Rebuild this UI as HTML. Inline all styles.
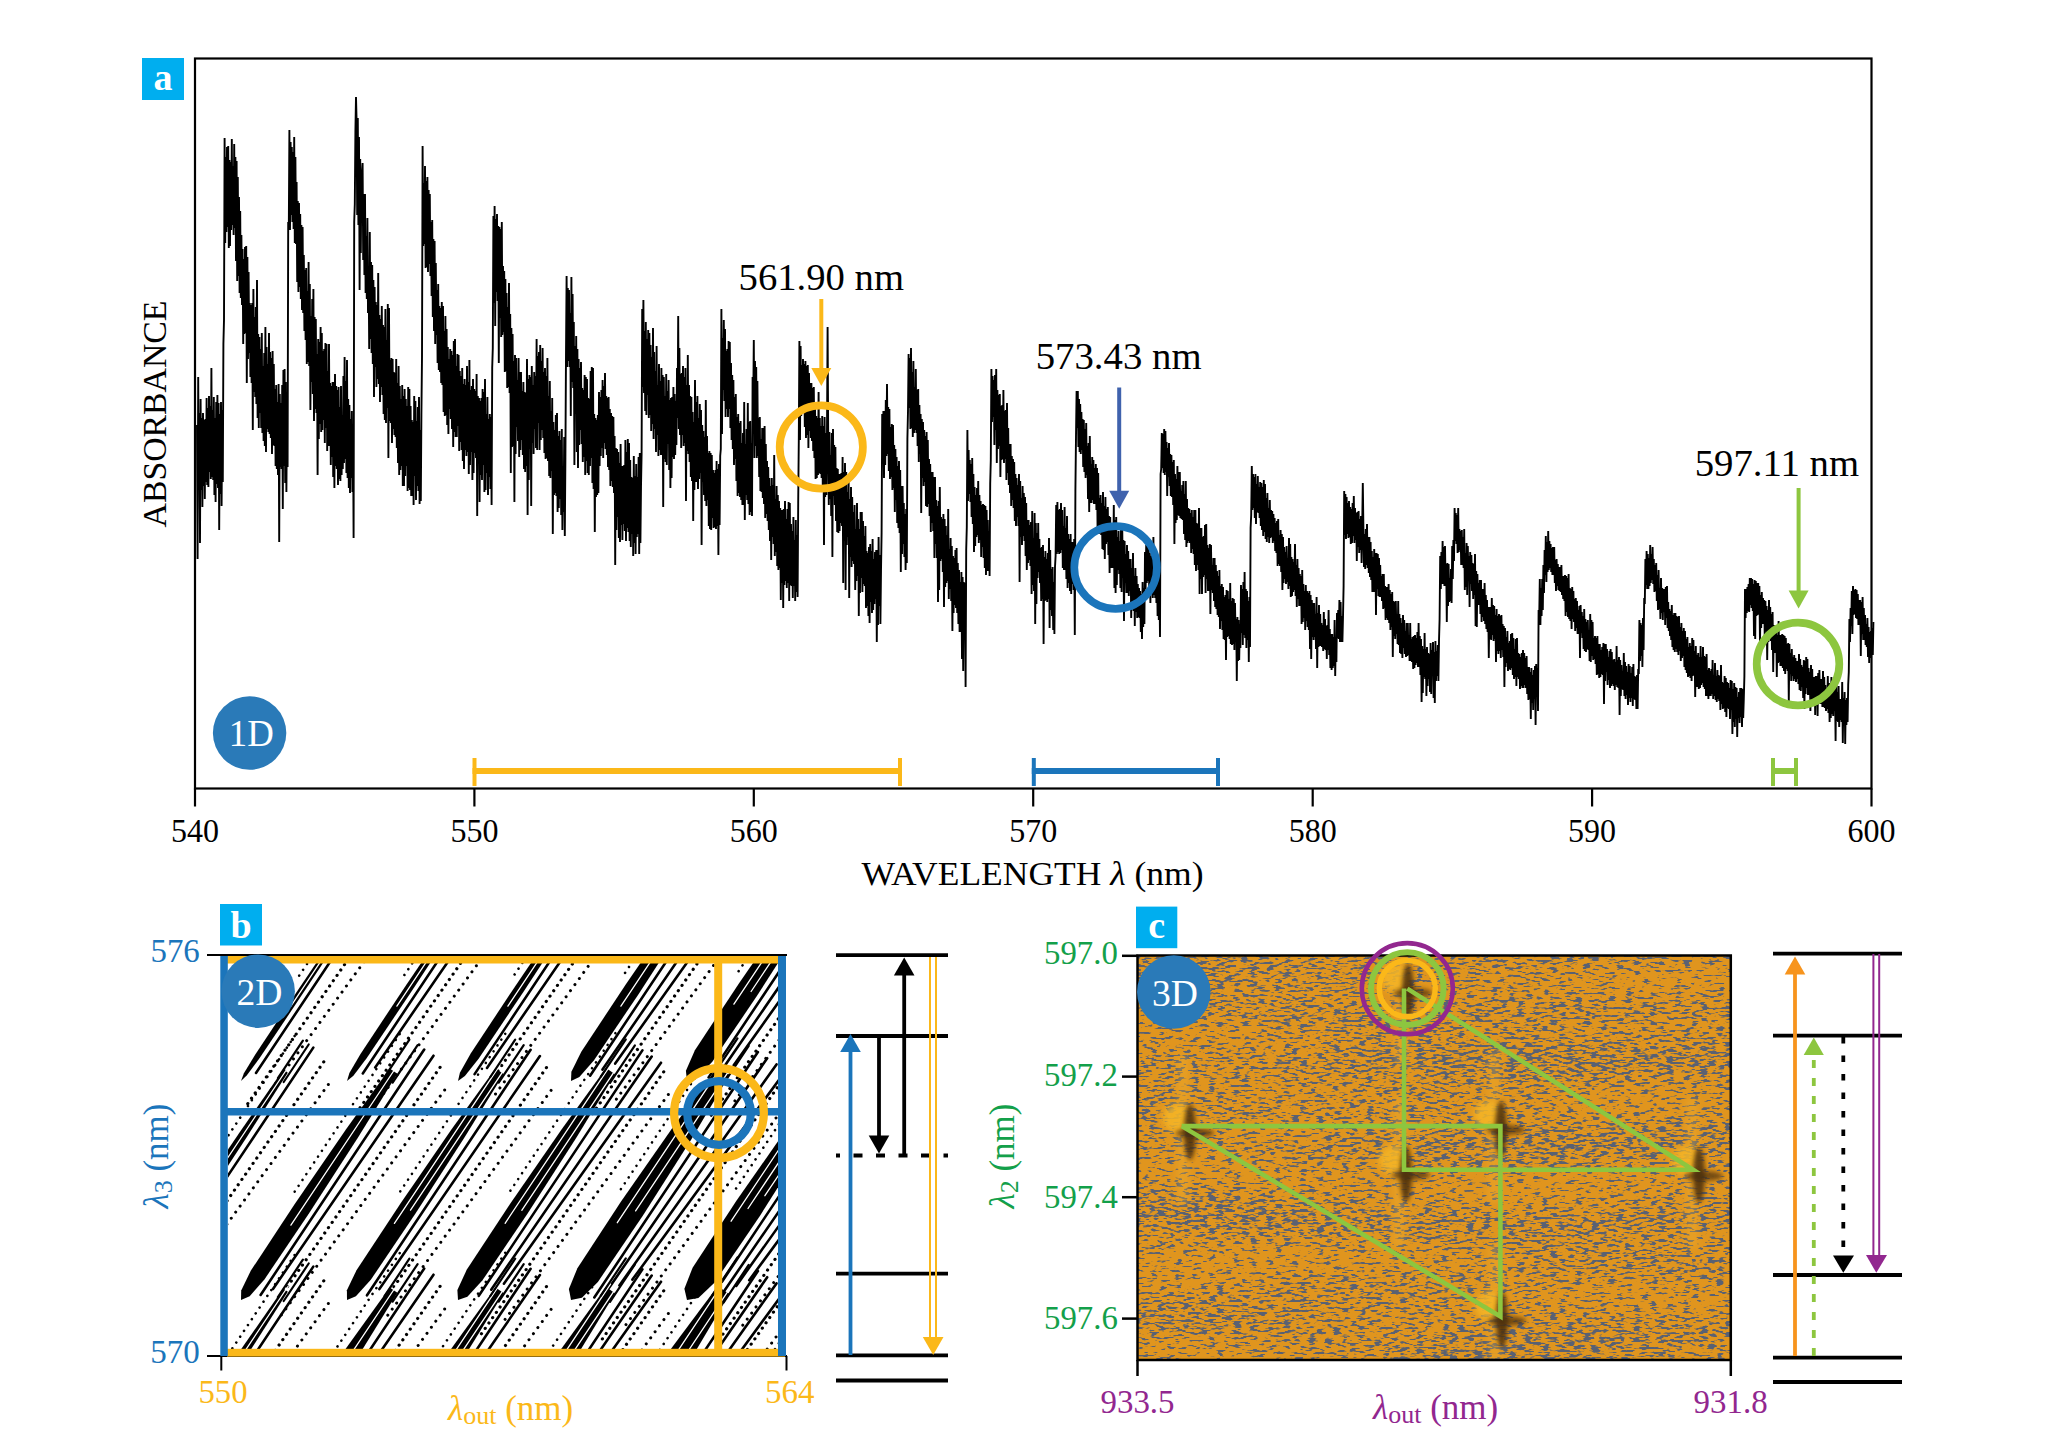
<!DOCTYPE html>
<html><head><meta charset="utf-8"><style>
html,body{margin:0;padding:0;background:#fff;}
svg{display:block;font-family:'Liberation Serif',serif;}
</style></head><body>
<svg width="2050" height="1452" viewBox="0 0 2050 1452" style="font-family:'Liberation Serif',serif">
<rect x="195.0" y="58.5" width="1676.5" height="730.0" fill="none" stroke="#000" stroke-width="2.2"/><path d="M197.00,425 L197.60,559 L198.20,377 L198.80,482 L199.40,413 L200.00,543 L200.60,399 L201.20,490 L201.80,418 L202.40,507 L203.00,413 L203.60,486 L204.20,420 L204.80,499 L205.40,419 L206.00,482 L206.60,398 L207.20,485 L207.80,408 L208.40,487 L209.00,396 L209.60,472 L210.20,406 L210.80,479 L211.40,368 L212.00,477 L212.60,410 L213.20,480 L213.80,397 L214.40,495 L215.00,418 L215.60,502 L216.20,402 L216.80,484 L217.40,395 L218.00,488 L218.60,403 L219.20,530 L219.80,414 L220.40,494 L221.00,402 L221.60,506 L222.20,410 L222.80,482 L223.40,344 L224.00,320 L224.60,138 L225.20,243 L225.80,157 L226.40,232 L227.00,147 L227.60,227 L228.20,146 L228.80,248 L229.40,160 L230.00,246 L230.60,162 L231.20,230 L231.80,139 L232.40,225 L233.00,166 L233.60,235 L234.20,144 L234.80,228 L235.40,157 L236.00,261 L236.60,161 L237.20,281 L237.80,177 L238.40,276 L239.00,197 L239.60,293 L240.20,211 L240.80,298 L241.40,235 L242.00,305 L242.60,249 L243.20,344 L243.80,259 L244.40,334 L245.00,247 L245.60,333 L246.20,246 L246.80,383 L247.40,257 L248.00,359 L248.60,272 L249.20,353 L249.80,303 L250.40,377 L251.00,305 L251.60,383 L252.20,303 L252.80,430 L253.40,289 L254.00,392 L254.60,317 L255.20,397 L255.80,307 L256.40,404 L257.00,280 L257.60,418 L258.20,334 L258.80,428 L259.40,337 L260.00,413 L260.60,349 L261.20,428 L261.80,333 L262.40,433 L263.00,366 L263.60,441 L264.20,353 L264.80,446 L265.40,327 L266.00,452 L266.60,347 L267.20,429 L267.80,364 L268.40,432 L269.00,333 L269.60,434 L270.20,352 L270.80,438 L271.40,358 L272.00,454 L272.60,351 L273.20,445 L273.80,364 L274.40,446 L275.00,389 L275.60,466 L276.20,385 L276.80,469 L277.40,402 L278.00,475 L278.60,384 L279.20,542 L279.80,394 L280.40,467 L281.00,403 L281.60,469 L282.20,385 L282.80,509 L283.40,370 L284.00,466 L284.60,369 L285.20,483 L285.80,382 L286.40,492 L287.00,407 L287.60,467 L288.20,222 L288.80,229 L289.40,130 L290.00,230 L290.60,142 L291.20,215 L291.80,147 L292.40,222 L293.00,152 L293.60,229 L294.20,137 L294.80,243 L295.40,157 L296.00,244 L296.60,182 L297.20,282 L297.80,201 L298.40,292 L299.00,203 L299.60,287 L300.20,214 L300.80,299 L301.40,225 L302.00,310 L302.60,227 L303.20,313 L303.80,255 L304.40,331 L305.00,270 L305.60,340 L306.20,268 L306.80,364 L307.40,291 L308.00,362 L308.60,262 L309.20,366 L309.80,284 L310.40,410 L311.00,316 L311.60,382 L312.20,299 L312.80,394 L313.40,289 L314.00,421 L314.60,317 L315.20,409 L315.80,319 L316.40,413 L317.00,354 L317.60,475 L318.20,339 L318.80,439 L319.40,342 L320.00,424 L320.60,327 L321.20,432 L321.80,333 L322.40,430 L323.00,351 L323.60,420 L324.20,349 L324.80,443 L325.40,343 L326.00,428 L326.60,344 L327.20,451 L327.80,371 L328.40,446 L329.00,344 L329.60,446 L330.20,383 L330.80,465 L331.40,386 L332.00,457 L332.60,382 L333.20,477 L333.80,382 L334.40,488 L335.00,374 L335.60,466 L336.20,386 L336.80,469 L337.40,390 L338.00,485 L338.60,387 L339.20,479 L339.80,407 L340.40,481 L341.00,386 L341.60,475 L342.20,415 L342.80,469 L343.40,376 L344.00,463 L344.60,357 L345.20,459 L345.80,381 L346.40,473 L347.00,360 L347.60,478 L348.20,399 L348.80,488 L349.40,405 L350.00,493 L350.60,419 L351.20,478 L351.80,411 L352.40,492 L353.00,425 L353.60,538 L354.20,222 L354.80,204 L355.40,132 L356.00,97 L356.60,121 L357.20,215 L357.80,118 L358.40,225 L359.00,137 L359.60,290 L360.20,159 L360.80,253 L361.40,176 L362.00,173 L362.60,163 L363.20,260 L363.80,194 L364.40,275 L365.00,194 L365.60,293 L366.20,236 L366.80,299 L367.40,218 L368.00,313 L368.60,267 L369.20,349 L369.80,232 L370.40,339 L371.00,262 L371.60,353 L372.20,265 L372.80,364 L373.40,280 L374.00,397 L374.60,287 L375.20,367 L375.80,302 L376.40,387 L377.00,305 L377.60,379 L378.20,273 L378.80,384 L379.40,315 L380.00,402 L380.60,319 L381.20,387 L381.80,306 L382.40,395 L383.00,325 L383.60,414 L384.20,327 L384.80,420 L385.40,309 L386.00,423 L386.60,340 L387.20,408 L387.80,304 L388.40,458 L389.00,308 L389.60,421 L390.20,360 L390.80,423 L391.40,358 L392.00,443 L392.60,359 L393.20,429 L393.80,372 L394.40,435 L395.00,373 L395.60,437 L396.20,359 L396.80,448 L397.40,383 L398.00,463 L398.60,366 L399.20,475 L399.80,386 L400.40,470 L401.00,399 L401.60,466 L402.20,385 L402.80,486 L403.40,396 L404.00,486 L404.60,389 L405.20,476 L405.80,399 L406.40,466 L407.00,406 L407.60,491 L408.20,387 L408.80,488 L409.40,389 L410.00,490 L410.60,406 L411.20,496 L411.80,420 L412.40,496 L413.00,422 L413.60,505 L414.20,396 L414.80,476 L415.40,401 L416.00,500 L416.60,421 L417.20,486 L417.80,407 L418.40,491 L419.00,397 L419.60,504 L420.20,430 L420.80,501 L421.40,415 L422.00,357 L422.60,146 L423.20,246 L423.80,183 L424.40,244 L425.00,166 L425.60,268 L426.20,181 L426.80,267 L427.40,177 L428.00,272 L428.60,190 L429.20,264 L429.80,194 L430.40,276 L431.00,222 L431.60,296 L432.20,220 L432.80,317 L433.40,239 L434.00,331 L434.60,241 L435.20,344 L435.80,263 L436.40,335 L437.00,290 L437.60,363 L438.20,284 L438.80,370 L439.40,306 L440.00,372 L440.60,308 L441.20,383 L441.80,302 L442.40,385 L443.00,306 L443.60,412 L444.20,331 L444.80,416 L445.40,316 L446.00,415 L446.60,329 L447.20,425 L447.80,347 L448.40,434 L449.00,359 L449.60,409 L450.20,349 L450.80,419 L451.40,351 L452.00,429 L452.60,355 L453.20,447 L453.80,341 L454.40,432 L455.00,339 L455.60,437 L456.20,366 L456.80,437 L457.40,354 L458.00,426 L458.60,355 L459.20,451 L459.80,371 L460.40,442 L461.00,376 L461.60,450 L462.20,368 L462.80,461 L463.40,384 L464.00,469 L464.60,379 L465.20,450 L465.80,385 L466.40,456 L467.00,366 L467.60,452 L468.20,382 L468.80,474 L469.40,360 L470.00,465 L470.60,390 L471.20,452 L471.80,386 L472.40,480 L473.00,379 L473.60,473 L474.20,389 L474.80,453 L475.40,391 L476.00,458 L476.60,374 L477.20,516 L477.80,396 L478.40,458 L479.00,398 L479.60,502 L480.20,401 L480.80,475 L481.40,398 L482.00,480 L482.60,389 L483.20,465 L483.80,392 L484.40,492 L485.00,379 L485.60,490 L486.20,414 L486.80,473 L487.40,397 L488.00,495 L488.60,419 L489.20,477 L489.80,414 L490.40,489 L491.00,417 L491.60,505 L492.20,368 L492.80,348 L493.40,216 L494.00,303 L494.60,206 L495.20,326 L495.80,219 L496.40,292 L497.00,214 L497.60,301 L498.20,226 L498.80,363 L499.40,227 L500.00,318 L500.60,229 L501.20,337 L501.80,222 L502.40,335 L503.00,266 L503.60,332 L504.20,271 L504.80,372 L505.40,279 L506.00,371 L506.60,293 L507.20,388 L507.80,307 L508.40,387 L509.00,283 L509.60,393 L510.20,314 L510.80,473 L511.40,328 L512.00,447 L512.60,334 L513.20,446 L513.80,361 L514.40,502 L515.00,355 L515.60,454 L516.20,358 L516.80,427 L517.40,380 L518.00,441 L518.60,358 L519.20,457 L519.80,372 L520.40,450 L521.00,372 L521.60,440 L522.20,391 L522.80,455 L523.40,382 L524.00,469 L524.60,392 L525.20,472 L525.80,393 L526.40,466 L527.00,359 L527.60,515 L528.20,379 L528.80,480 L529.40,375 L530.00,449 L530.60,377 L531.20,506 L531.80,366 L532.40,443 L533.00,385 L533.60,454 L534.20,372 L534.80,429 L535.40,376 L536.00,448 L536.60,339 L537.20,450 L537.80,356 L538.40,423 L539.00,352 L539.60,450 L540.20,345 L540.80,440 L541.40,361 L542.00,430 L542.60,348 L543.20,438 L543.80,372 L544.40,453 L545.00,368 L545.60,459 L546.20,376 L546.80,458 L547.40,358 L548.00,461 L548.60,396 L549.20,476 L549.80,381 L550.40,478 L551.00,411 L551.60,471 L552.20,398 L552.80,534 L553.40,422 L554.00,495 L554.60,430 L555.20,493 L555.80,415 L556.40,496 L557.00,413 L557.60,512 L558.20,436 L558.80,508 L559.40,431 L560.00,499 L560.60,440 L561.20,515 L561.80,429 L562.40,530 L563.00,466 L563.60,512 L564.20,437 L564.80,536 L565.40,458 L566.00,355 L566.60,276 L567.20,367 L567.80,288 L568.40,361 L569.00,290 L569.60,367 L570.20,313 L570.80,416 L571.40,277 L572.00,382 L572.60,294 L573.20,388 L573.80,322 L574.40,465 L575.00,346 L575.60,414 L576.20,336 L576.80,452 L577.40,349 L578.00,468 L578.60,359 L579.20,445 L579.80,368 L580.40,430 L581.00,362 L581.60,444 L582.20,388 L582.80,462 L583.40,390 L584.00,457 L584.60,375 L585.20,475 L585.80,377 L586.40,461 L587.00,379 L587.60,473 L588.20,398 L588.80,475 L589.40,399 L590.00,466 L590.60,371 L591.20,458 L591.80,367 L592.40,483 L593.00,368 L593.60,489 L594.20,414 L594.80,532 L595.40,418 L596.00,497 L596.60,420 L597.20,495 L597.80,415 L598.40,493 L599.00,392 L599.60,466 L600.20,397 L600.80,456 L601.40,390 L602.00,448 L602.60,380 L603.20,458 L603.80,386 L604.40,443 L605.00,373 L605.60,449 L606.20,396 L606.80,455 L607.40,398 L608.00,467 L608.60,397 L609.20,470 L609.80,409 L610.40,486 L611.00,413 L611.60,481 L612.20,416 L612.80,487 L613.40,417 L614.00,493 L614.60,436 L615.20,565 L615.80,448 L616.40,530 L617.00,449 L617.60,517 L618.20,452 L618.80,538 L619.40,463 L620.00,542 L620.60,444 L621.20,525 L621.80,466 L622.40,540 L623.00,466 L623.60,524 L624.20,465 L624.80,531 L625.40,440 L626.00,541 L626.60,452 L627.20,528 L627.80,439 L628.40,532 L629.00,443 L629.60,541 L630.20,460 L630.80,547 L631.40,477 L632.00,534 L632.60,478 L633.20,556 L633.80,456 L634.40,543 L635.00,476 L635.60,554 L636.20,464 L636.80,537 L637.40,477 L638.00,534 L638.60,457 L639.20,554 L639.80,453 L640.40,543 L641.00,487 L641.60,454 L642.20,309 L642.80,387 L643.40,300 L644.00,393 L644.60,331 L645.20,411 L645.80,322 L646.40,415 L647.00,339 L647.60,395 L648.20,330 L648.80,418 L649.40,333 L650.00,415 L650.60,345 L651.20,431 L651.80,357 L652.40,424 L653.00,328 L653.60,439 L654.20,352 L654.80,429 L655.40,371 L656.00,452 L656.60,346 L657.20,435 L657.80,385 L658.40,456 L659.00,364 L659.60,450 L660.20,381 L660.80,455 L661.40,368 L662.00,455 L662.60,375 L663.20,507 L663.80,377 L664.40,459 L665.00,396 L665.60,462 L666.20,374 L666.80,465 L667.40,391 L668.00,444 L668.60,380 L669.20,470 L669.80,400 L670.40,488 L671.00,398 L671.60,478 L672.20,397 L672.80,457 L673.40,387 L674.00,459 L674.60,394 L675.20,455 L675.80,401 L676.40,445 L677.00,368 L677.60,418 L678.20,316 L678.80,429 L679.40,348 L680.00,435 L680.60,374 L681.20,448 L681.80,373 L682.40,435 L683.00,366 L683.60,446 L684.20,377 L684.80,443 L685.40,368 L686.00,501 L686.60,385 L687.20,451 L687.80,355 L688.40,454 L689.00,385 L689.60,462 L690.20,396 L690.80,477 L691.40,397 L692.00,481 L692.60,412 L693.20,521 L693.80,422 L694.40,490 L695.00,380 L695.60,482 L696.20,402 L696.80,482 L697.40,396 L698.00,489 L698.60,418 L699.20,479 L699.80,404 L700.40,473 L701.00,410 L701.60,545 L702.20,425 L702.80,482 L703.40,431 L704.00,495 L704.60,437 L705.20,501 L705.80,400 L706.40,506 L707.00,436 L707.60,500 L708.20,453 L708.80,526 L709.40,451 L710.00,529 L710.60,453 L711.20,530 L711.80,455 L712.40,518 L713.00,470 L713.60,528 L714.20,473 L714.80,527 L715.40,470 L716.00,529 L716.60,461 L717.20,526 L717.80,469 L718.40,555 L719.00,464 L719.60,525 L720.20,456 L720.80,449 L721.40,309 L722.00,434 L722.60,338 L723.20,390 L723.80,320 L724.40,401 L725.00,329 L725.60,417 L726.20,351 L726.80,409 L727.40,349 L728.00,417 L728.60,341 L729.20,409 L729.80,342 L730.40,428 L731.00,363 L731.60,440 L732.20,375 L732.80,449 L733.40,380 L734.00,465 L734.60,397 L735.20,459 L735.80,394 L736.40,481 L737.00,417 L737.60,496 L738.20,414 L738.80,493 L739.40,423 L740.00,497 L740.60,421 L741.20,500 L741.80,443 L742.40,505 L743.00,433 L743.60,505 L744.20,402 L744.80,520 L745.40,444 L746.00,495 L746.60,429 L747.20,500 L747.80,403 L748.40,504 L749.00,422 L749.60,515 L750.20,421 L750.80,512 L751.40,443 L752.00,516 L752.60,377 L753.20,409 L753.80,340 L754.40,458 L755.00,361 L755.60,446 L756.20,367 L756.80,458 L757.40,381 L758.00,456 L758.60,418 L759.20,477 L759.80,417 L760.40,491 L761.00,439 L761.60,492 L762.20,428 L762.80,498 L763.40,428 L764.00,504 L764.60,426 L765.20,518 L765.80,444 L766.40,514 L767.00,461 L767.60,521 L768.20,467 L768.80,530 L769.40,478 L770.00,541 L770.60,486 L771.20,560 L771.80,478 L772.40,537 L773.00,485 L773.60,544 L774.20,455 L774.80,556 L775.40,499 L776.00,552 L776.60,486 L777.20,566 L777.80,495 L778.40,570 L779.00,501 L779.60,568 L780.20,508 L780.80,600 L781.40,510 L782.00,583 L782.60,510 L783.20,608 L783.80,509 L784.40,585 L785.00,501 L785.60,581 L786.20,519 L786.80,588 L787.40,509 L788.00,583 L788.60,502 L789.20,601 L789.80,503 L790.40,585 L791.00,524 L791.60,586 L792.20,531 L792.80,598 L793.40,517 L794.00,586 L794.60,540 L795.20,601 L795.80,520 L796.40,592 L797.00,535 L797.60,597 L798.20,503 L798.80,440 L799.40,341 L800.00,440 L800.60,346 L801.20,416 L801.80,365 L802.40,413 L803.00,359 L803.60,410 L804.20,364 L804.80,427 L805.40,361 L806.00,438 L806.60,366 L807.20,435 L807.80,365 L808.40,448 L809.00,373 L809.60,431 L810.20,383 L810.80,438 L811.40,383 L812.00,441 L812.60,388 L813.20,451 L813.80,387 L814.40,458 L815.00,403 L815.60,479 L816.20,416 L816.80,478 L817.40,418 L818.00,475 L818.60,392 L819.20,473 L819.80,418 L820.40,474 L821.00,426 L821.60,478 L822.20,416 L822.80,491 L823.40,426 L824.00,545 L824.60,417 L825.20,497 L825.80,433 L826.40,495 L827.00,432 L827.60,327 L828.20,437 L828.80,505 L829.40,432 L830.00,499 L830.60,455 L831.20,516 L831.80,433 L832.40,557 L833.00,429 L833.60,496 L834.20,445 L834.80,505 L835.40,447 L836.00,521 L836.60,468 L837.20,532 L837.80,469 L838.40,533 L839.00,474 L839.60,531 L840.20,474 L840.80,523 L841.40,473 L842.00,526 L842.60,457 L843.20,583 L843.80,472 L844.40,541 L845.00,463 L845.60,590 L846.20,472 L846.80,545 L847.40,492 L848.00,537 L848.60,478 L849.20,598 L849.80,499 L850.40,557 L851.00,487 L851.60,567 L852.20,497 L852.80,561 L853.40,512 L854.00,564 L854.60,505 L855.20,590 L855.80,529 L856.40,581 L857.00,503 L857.60,576 L858.20,519 L858.80,616 L859.40,529 L860.00,593 L860.60,512 L861.20,578 L861.80,512 L862.40,592 L863.00,521 L863.60,584 L864.20,536 L864.80,586 L865.40,526 L866.00,608 L866.60,551 L867.20,606 L867.80,553 L868.40,616 L869.00,547 L869.60,623 L870.20,544 L870.80,602 L871.40,551 L872.00,613 L872.60,539 L873.20,610 L873.80,559 L874.40,604 L875.00,552 L875.60,599 L876.20,550 L876.80,642 L877.40,550 L878.00,625 L878.60,537 L879.20,606 L879.80,555 L880.40,624 L881.00,571 L881.60,533 L882.20,414 L882.80,464 L883.40,411 L884.00,478 L884.60,411 L885.20,465 L885.80,400 L886.40,456 L887.00,384 L887.60,454 L888.20,407 L888.80,471 L889.40,409 L890.00,479 L890.60,427 L891.20,477 L891.80,424 L892.40,490 L893.00,425 L893.60,488 L894.20,445 L894.80,512 L895.40,449 L896.00,500 L896.60,457 L897.20,523 L897.80,466 L898.40,528 L899.00,461 L899.60,533 L900.20,470 L900.80,572 L901.40,486 L902.00,554 L902.60,486 L903.20,544 L903.80,503 L904.40,557 L905.00,514 L905.60,570 L906.20,509 L906.80,563 L907.40,439 L908.00,411 L908.60,354 L909.20,408 L909.80,358 L910.40,429 L911.00,348 L911.60,428 L912.20,372 L912.80,437 L913.40,361 L914.00,433 L914.60,387 L915.20,430 L915.80,369 L916.40,433 L917.00,390 L917.60,446 L918.20,389 L918.80,462 L919.40,405 L920.00,454 L920.60,414 L921.20,513 L921.80,419 L922.40,478 L923.00,422 L923.60,486 L924.20,430 L924.80,482 L925.40,436 L926.00,506 L926.60,432 L927.20,507 L927.80,440 L928.40,504 L929.00,459 L929.60,516 L930.20,464 L930.80,532 L931.40,472 L932.00,523 L932.60,472 L933.20,531 L933.80,477 L934.40,558 L935.00,477 L935.60,544 L936.20,500 L936.80,558 L937.40,506 L938.00,602 L938.60,501 L939.20,590 L939.80,487 L940.40,561 L941.00,517 L941.60,559 L942.20,519 L942.80,572 L943.40,514 L944.00,607 L944.60,519 L945.20,587 L945.80,526 L946.40,583 L947.00,535 L947.60,581 L948.20,509 L948.80,599 L949.40,549 L950.00,589 L950.60,538 L951.20,601 L951.80,546 L952.40,631 L953.00,556 L953.60,613 L954.20,558 L954.80,605 L955.40,550 L956.00,608 L956.60,548 L957.20,613 L957.80,563 L958.40,624 L959.00,570 L959.60,632 L960.20,582 L960.80,632 L961.40,572 L962.00,659 L962.60,577 L963.20,671 L963.80,582 L964.40,638 L965.00,583 L965.60,687 L966.20,550 L966.80,527 L967.40,430 L968.00,501 L968.60,450 L969.20,494 L969.80,460 L970.40,502 L971.00,464 L971.60,517 L972.20,458 L972.80,524 L973.40,474 L974.00,552 L974.60,487 L975.20,546 L975.80,495 L976.40,537 L977.00,488 L977.60,535 L978.20,481 L978.80,543 L979.40,495 L980.00,540 L980.60,501 L981.20,557 L981.80,505 L982.40,547 L983.00,504 L983.60,558 L984.20,505 L984.80,568 L985.40,506 L986.00,575 L986.60,510 L987.20,571 L987.80,520 L988.40,571 L989.00,531 L989.60,576 L990.20,484 L990.80,460 L991.40,369 L992.00,422 L992.60,376 L993.20,417 L993.80,380 L994.40,445 L995.00,375 L995.60,430 L996.20,369 L996.80,463 L997.40,390 L998.00,449 L998.60,395 L999.20,446 L999.80,394 L1000.40,477 L1001.00,406 L1001.60,460 L1002.20,405 L1002.80,459 L1003.40,390 L1004.00,463 L1004.60,411 L1005.20,459 L1005.80,410 L1006.40,480 L1007.00,403 L1007.60,473 L1008.20,428 L1008.80,485 L1009.40,444 L1010.00,493 L1010.60,444 L1011.20,506 L1011.80,456 L1012.40,500 L1013.00,459 L1013.60,508 L1014.20,462 L1014.80,521 L1015.40,474 L1016.00,526 L1016.60,478 L1017.20,517 L1017.80,485 L1018.40,526 L1019.00,474 L1019.60,582 L1020.20,481 L1020.80,537 L1021.40,498 L1022.00,545 L1022.60,486 L1023.20,536 L1023.80,493 L1024.40,541 L1025.00,497 L1025.60,556 L1026.20,503 L1026.80,570 L1027.40,520 L1028.00,563 L1028.60,520 L1029.20,560 L1029.80,525 L1030.40,566 L1031.00,522 L1031.60,594 L1032.20,511 L1032.80,585 L1033.40,538 L1034.00,591 L1034.60,513 L1035.20,624 L1035.80,523 L1036.40,604 L1037.00,533 L1037.60,578 L1038.20,523 L1038.80,572 L1039.40,539 L1040.00,583 L1040.60,548 L1041.20,601 L1041.80,547 L1042.40,599 L1043.00,545 L1043.60,644 L1044.20,557 L1044.80,601 L1045.40,551 L1046.00,600 L1046.60,559 L1047.20,602 L1047.80,553 L1048.40,599 L1049.00,538 L1049.60,628 L1050.20,550 L1050.80,610 L1051.40,569 L1052.00,616 L1052.60,567 L1053.20,630 L1053.80,582 L1054.40,634 L1055.00,567 L1055.60,556 L1056.20,505 L1056.80,554 L1057.40,502 L1058.00,552 L1058.60,510 L1059.20,554 L1059.80,509 L1060.40,553 L1061.00,503 L1061.60,550 L1062.20,510 L1062.80,568 L1063.40,526 L1064.00,570 L1064.60,507 L1065.20,570 L1065.80,528 L1066.40,579 L1067.00,516 L1067.60,588 L1068.20,534 L1068.80,583 L1069.40,539 L1070.00,591 L1070.60,534 L1071.20,594 L1071.80,542 L1072.40,584 L1073.00,542 L1073.60,590 L1074.20,539 L1074.80,635 L1075.40,491 L1076.00,437 L1076.60,391 L1077.20,428 L1077.80,391 L1078.40,447 L1079.00,399 L1079.60,452 L1080.20,404 L1080.80,454 L1081.40,412 L1082.00,450 L1082.60,419 L1083.20,467 L1083.80,420 L1084.40,472 L1085.00,429 L1085.60,478 L1086.20,423 L1086.80,475 L1087.40,446 L1088.00,499 L1088.60,443 L1089.20,512 L1089.80,436 L1090.40,503 L1091.00,464 L1091.60,503 L1092.20,457 L1092.80,500 L1093.40,460 L1094.00,504 L1094.60,468 L1095.20,504 L1095.80,464 L1096.40,510 L1097.00,468 L1097.60,533 L1098.20,473 L1098.80,534 L1099.40,498 L1100.00,529 L1100.60,495 L1101.20,535 L1101.80,503 L1102.40,549 L1103.00,492 L1103.60,550 L1104.20,506 L1104.80,559 L1105.40,497 L1106.00,544 L1106.60,509 L1107.20,542 L1107.80,507 L1108.40,555 L1109.00,516 L1109.60,573 L1110.20,517 L1110.80,568 L1111.40,524 L1112.00,568 L1112.60,525 L1113.20,568 L1113.80,505 L1114.40,588 L1115.00,520 L1115.60,593 L1116.20,517 L1116.80,585 L1117.40,537 L1118.00,570 L1118.60,531 L1119.20,574 L1119.80,541 L1120.40,588 L1121.00,530 L1121.60,592 L1122.20,524 L1122.80,578 L1123.40,540 L1124.00,621 L1124.60,541 L1125.20,583 L1125.80,554 L1126.40,593 L1127.00,545 L1127.60,593 L1128.20,551 L1128.80,596 L1129.40,559 L1130.00,591 L1130.60,559 L1131.20,618 L1131.80,568 L1132.40,604 L1133.00,553 L1133.60,611 L1134.20,576 L1134.80,626 L1135.40,568 L1136.00,612 L1136.60,576 L1137.20,618 L1137.80,584 L1138.40,617 L1139.00,588 L1139.60,618 L1140.20,591 L1140.80,632 L1141.40,594 L1142.00,639 L1142.60,582 L1143.20,627 L1143.80,588 L1144.40,624 L1145.00,552 L1145.60,589 L1146.20,545 L1146.80,583 L1147.40,547 L1148.00,581 L1148.60,545 L1149.20,587 L1149.80,553 L1150.40,603 L1151.00,556 L1151.60,594 L1152.20,548 L1152.80,598 L1153.40,537 L1154.00,595 L1154.60,554 L1155.20,598 L1155.80,560 L1156.40,603 L1157.00,570 L1157.60,616 L1158.20,566 L1158.80,620 L1159.40,577 L1160.00,637 L1160.60,474 L1161.20,469 L1161.80,433 L1162.40,468 L1163.00,434 L1163.60,473 L1164.20,429 L1164.80,475 L1165.40,431 L1166.00,472 L1166.60,442 L1167.20,496 L1167.80,448 L1168.40,477 L1169.00,443 L1169.60,486 L1170.20,454 L1170.80,496 L1171.40,455 L1172.00,497 L1172.60,462 L1173.20,505 L1173.80,460 L1174.40,544 L1175.00,474 L1175.60,523 L1176.20,479 L1176.80,520 L1177.40,466 L1178.00,515 L1178.60,472 L1179.20,516 L1179.80,472 L1180.40,518 L1181.00,491 L1181.60,519 L1182.20,485 L1182.80,520 L1183.40,481 L1184.00,534 L1184.60,494 L1185.20,540 L1185.80,481 L1186.40,547 L1187.00,499 L1187.60,543 L1188.20,508 L1188.80,541 L1189.40,509 L1190.00,543 L1190.60,513 L1191.20,553 L1191.80,510 L1192.40,549 L1193.00,517 L1193.60,554 L1194.20,510 L1194.80,565 L1195.40,510 L1196.00,571 L1196.60,523 L1197.20,565 L1197.80,524 L1198.40,570 L1199.00,508 L1199.60,594 L1200.20,528 L1200.80,579 L1201.40,528 L1202.00,594 L1202.60,537 L1203.20,577 L1203.80,536 L1204.40,575 L1205.00,525 L1205.60,593 L1206.20,524 L1206.80,579 L1207.40,545 L1208.00,591 L1208.60,548 L1209.20,591 L1209.80,544 L1210.40,614 L1211.00,545 L1211.60,590 L1212.20,565 L1212.80,593 L1213.40,558 L1214.00,601 L1214.60,558 L1215.20,607 L1215.80,565 L1216.40,609 L1217.00,571 L1217.60,615 L1218.20,576 L1218.80,617 L1219.40,570 L1220.00,629 L1220.60,586 L1221.20,621 L1221.80,584 L1222.40,630 L1223.00,587 L1223.60,639 L1224.20,597 L1224.80,640 L1225.40,595 L1226.00,660 L1226.60,590 L1227.20,637 L1227.80,591 L1228.40,636 L1229.00,599 L1229.60,639 L1230.20,583 L1230.80,644 L1231.40,601 L1232.00,645 L1232.60,598 L1233.20,644 L1233.80,599 L1234.40,650 L1235.00,603 L1235.60,641 L1236.20,619 L1236.80,681 L1237.40,617 L1238.00,661 L1238.60,620 L1239.20,660 L1239.80,624 L1240.40,648 L1241.00,585 L1241.60,633 L1242.20,589 L1242.80,645 L1243.40,582 L1244.00,635 L1244.60,572 L1245.20,638 L1245.80,589 L1246.40,648 L1247.00,591 L1247.60,640 L1248.20,601 L1248.80,662 L1249.40,597 L1250.00,647 L1250.60,528 L1251.20,515 L1251.80,466 L1252.40,510 L1253.00,474 L1253.60,508 L1254.20,477 L1254.80,518 L1255.40,474 L1256.00,524 L1256.60,484 L1257.20,512 L1257.80,476 L1258.40,513 L1259.00,487 L1259.60,518 L1260.20,482 L1260.80,526 L1261.40,483 L1262.00,530 L1262.60,487 L1263.20,536 L1263.80,480 L1264.40,532 L1265.00,484 L1265.60,539 L1266.20,498 L1266.80,542 L1267.40,493 L1268.00,537 L1268.60,508 L1269.20,543 L1269.80,500 L1270.40,538 L1271.00,510 L1271.60,537 L1272.20,511 L1272.80,543 L1273.40,514 L1274.00,541 L1274.60,518 L1275.20,551 L1275.80,523 L1276.40,553 L1277.00,521 L1277.60,566 L1278.20,519 L1278.80,564 L1279.40,535 L1280.00,566 L1280.60,530 L1281.20,572 L1281.80,534 L1282.40,590 L1283.00,537 L1283.60,583 L1284.20,547 L1284.80,579 L1285.40,552 L1286.00,584 L1286.60,546 L1287.20,582 L1287.80,558 L1288.40,589 L1289.00,538 L1289.60,586 L1290.20,544 L1290.80,597 L1291.40,557 L1292.00,596 L1292.60,559 L1293.20,592 L1293.80,562 L1294.40,590 L1295.00,544 L1295.60,596 L1296.20,565 L1296.80,607 L1297.40,559 L1298.00,599 L1298.60,568 L1299.20,606 L1299.80,574 L1300.40,606 L1301.00,576 L1301.60,624 L1302.20,570 L1302.80,622 L1303.40,584 L1304.00,618 L1304.60,591 L1305.20,630 L1305.80,585 L1306.40,621 L1307.00,591 L1307.60,627 L1308.20,593 L1308.80,630 L1309.40,591 L1310.00,649 L1310.60,595 L1311.20,659 L1311.80,600 L1312.40,637 L1313.00,603 L1313.60,640 L1314.20,603 L1314.80,637 L1315.40,614 L1316.00,649 L1316.60,597 L1317.20,668 L1317.80,613 L1318.40,647 L1319.00,605 L1319.60,646 L1320.20,614 L1320.80,646 L1321.40,623 L1322.00,647 L1322.60,625 L1323.20,651 L1323.80,612 L1324.40,649 L1325.00,619 L1325.60,650 L1326.20,626 L1326.80,659 L1327.40,625 L1328.00,650 L1328.60,610 L1329.20,655 L1329.80,629 L1330.40,668 L1331.00,634 L1331.60,670 L1332.20,634 L1332.80,668 L1333.40,637 L1334.00,666 L1334.60,620 L1335.20,676 L1335.80,639 L1336.40,662 L1337.00,613 L1337.60,638 L1338.20,610 L1338.80,639 L1339.40,600 L1340.00,642 L1340.60,602 L1341.20,642 L1341.80,616 L1342.40,642 L1343.00,617 L1343.60,586 L1344.20,491 L1344.80,535 L1345.40,494 L1346.00,539 L1346.60,497 L1347.20,534 L1347.80,503 L1348.40,538 L1349.00,501 L1349.60,537 L1350.20,507 L1350.80,544 L1351.40,509 L1352.00,543 L1352.60,503 L1353.20,536 L1353.80,496 L1354.40,543 L1355.00,508 L1355.60,540 L1356.20,513 L1356.80,561 L1357.40,512 L1358.00,547 L1358.60,511 L1359.20,553 L1359.80,519 L1360.40,550 L1361.00,516 L1361.60,563 L1362.20,526 L1362.80,483 L1363.40,528 L1364.00,567 L1364.60,534 L1365.20,569 L1365.80,529 L1366.40,565 L1367.00,524 L1367.60,568 L1368.20,537 L1368.80,573 L1369.40,537 L1370.00,577 L1370.60,542 L1371.20,580 L1371.80,551 L1372.40,592 L1373.00,557 L1373.60,592 L1374.20,549 L1374.80,592 L1375.40,553 L1376.00,615 L1376.60,553 L1377.20,589 L1377.80,554 L1378.40,596 L1379.00,558 L1379.60,597 L1380.20,565 L1380.80,597 L1381.40,576 L1382.00,601 L1382.60,574 L1383.20,609 L1383.80,574 L1384.40,608 L1385.00,586 L1385.60,620 L1386.20,587 L1386.80,618 L1387.40,587 L1388.00,620 L1388.60,584 L1389.20,623 L1389.80,590 L1390.40,630 L1391.00,594 L1391.60,627 L1392.20,592 L1392.80,657 L1393.40,601 L1394.00,636 L1394.60,602 L1395.20,639 L1395.80,601 L1396.40,634 L1397.00,614 L1397.60,644 L1398.20,601 L1398.80,645 L1399.40,614 L1400.00,653 L1400.60,618 L1401.20,654 L1401.80,623 L1402.40,658 L1403.00,615 L1403.60,648 L1404.20,620 L1404.80,654 L1405.40,631 L1406.00,657 L1406.60,623 L1407.20,656 L1407.80,623 L1408.40,655 L1409.00,635 L1409.60,661 L1410.20,623 L1410.80,661 L1411.40,639 L1412.00,662 L1412.60,637 L1413.20,669 L1413.80,636 L1414.40,668 L1415.00,635 L1415.60,665 L1416.20,638 L1416.80,663 L1417.40,632 L1418.00,667 L1418.60,623 L1419.20,667 L1419.80,636 L1420.40,675 L1421.00,639 L1421.60,702 L1422.20,646 L1422.80,693 L1423.40,649 L1424.00,677 L1424.60,633 L1425.20,679 L1425.80,649 L1426.40,696 L1427.00,647 L1427.60,686 L1428.20,653 L1428.80,679 L1429.40,654 L1430.00,692 L1430.60,643 L1431.20,694 L1431.80,650 L1432.40,675 L1433.00,642 L1433.60,698 L1434.20,652 L1434.80,703 L1435.40,641 L1436.00,681 L1436.60,651 L1437.20,676 L1437.80,645 L1438.40,681 L1439.00,641 L1439.60,619 L1440.20,556 L1440.80,589 L1441.40,552 L1442.00,584 L1442.60,541 L1443.20,584 L1443.80,547 L1444.40,586 L1445.00,546 L1445.60,586 L1446.20,564 L1446.80,622 L1447.40,563 L1448.00,606 L1448.60,564 L1449.20,602 L1449.80,578 L1450.40,601 L1451.00,569 L1451.60,603 L1452.20,546 L1452.80,579 L1453.40,540 L1454.00,561 L1454.60,508 L1455.20,541 L1455.80,513 L1456.40,544 L1457.00,515 L1457.60,553 L1458.20,508 L1458.80,552 L1459.40,529 L1460.00,550 L1460.60,531 L1461.20,565 L1461.80,530 L1462.40,565 L1463.00,537 L1463.60,568 L1464.20,529 L1464.80,590 L1465.40,553 L1466.00,587 L1466.60,543 L1467.20,595 L1467.80,546 L1468.40,580 L1469.00,556 L1469.60,607 L1470.20,552 L1470.80,584 L1471.40,555 L1472.00,591 L1472.60,563 L1473.20,599 L1473.80,564 L1474.40,595 L1475.00,554 L1475.60,626 L1476.20,571 L1476.80,627 L1477.40,574 L1478.00,605 L1478.60,583 L1479.20,605 L1479.80,580 L1480.40,614 L1481.00,580 L1481.60,622 L1482.20,589 L1482.80,617 L1483.40,589 L1484.00,621 L1484.60,583 L1485.20,624 L1485.80,595 L1486.40,629 L1487.00,600 L1487.60,632 L1488.20,607 L1488.80,658 L1489.40,607 L1490.00,639 L1490.60,607 L1491.20,640 L1491.80,598 L1492.40,635 L1493.00,605 L1493.60,641 L1494.20,606 L1494.80,639 L1495.40,615 L1496.00,662 L1496.60,609 L1497.20,651 L1497.80,616 L1498.40,654 L1499.00,614 L1499.60,651 L1500.20,616 L1500.80,658 L1501.40,615 L1502.00,650 L1502.60,624 L1503.20,657 L1503.80,626 L1504.40,687 L1505.00,628 L1505.60,667 L1506.20,637 L1506.80,663 L1507.40,631 L1508.00,671 L1508.60,643 L1509.20,669 L1509.80,641 L1510.40,670 L1511.00,634 L1511.60,668 L1512.20,633 L1512.80,675 L1513.40,638 L1514.00,679 L1514.60,649 L1515.20,677 L1515.80,639 L1516.40,686 L1517.00,638 L1517.60,677 L1518.20,653 L1518.80,679 L1519.40,654 L1520.00,689 L1520.60,657 L1521.20,686 L1521.80,653 L1522.40,688 L1523.00,650 L1523.60,688 L1524.20,653 L1524.80,685 L1525.40,658 L1526.00,688 L1526.60,656 L1527.20,694 L1527.80,667 L1528.40,700 L1529.00,667 L1529.60,699 L1530.20,672 L1530.80,719 L1531.40,668 L1532.00,703 L1532.60,675 L1533.20,710 L1533.80,670 L1534.40,699 L1535.00,666 L1535.60,725 L1536.20,664 L1536.80,697 L1537.40,668 L1538.00,711 L1538.60,610 L1539.20,619 L1539.80,579 L1540.40,625 L1541.00,588 L1541.60,616 L1542.20,579 L1542.80,610 L1543.40,565 L1544.00,593 L1544.60,550 L1545.20,575 L1545.80,536 L1546.40,582 L1547.00,542 L1547.60,572 L1548.20,531 L1548.80,570 L1549.40,541 L1550.00,568 L1550.60,544 L1551.20,572 L1551.80,548 L1552.40,575 L1553.00,547 L1553.60,575 L1554.20,547 L1554.80,583 L1555.40,560 L1556.00,591 L1556.60,559 L1557.20,586 L1557.80,564 L1558.40,590 L1559.00,567 L1559.60,591 L1560.20,567 L1560.80,592 L1561.40,565 L1562.00,595 L1562.60,576 L1563.20,599 L1563.80,576 L1564.40,601 L1565.00,575 L1565.60,616 L1566.20,576 L1566.80,612 L1567.40,578 L1568.00,617 L1568.60,574 L1569.20,619 L1569.80,588 L1570.40,621 L1571.00,589 L1571.60,629 L1572.20,587 L1572.80,619 L1573.40,591 L1574.00,622 L1574.60,599 L1575.20,631 L1575.80,598 L1576.40,628 L1577.00,601 L1577.60,634 L1578.20,610 L1578.80,634 L1579.40,606 L1580.00,658 L1580.60,605 L1581.20,633 L1581.80,612 L1582.40,638 L1583.00,616 L1583.60,649 L1584.20,609 L1584.80,651 L1585.40,619 L1586.00,652 L1586.60,622 L1587.20,649 L1587.80,620 L1588.40,650 L1589.00,630 L1589.60,661 L1590.20,614 L1590.80,662 L1591.40,620 L1592.00,656 L1592.60,622 L1593.20,660 L1593.80,638 L1594.40,659 L1595.00,636 L1595.60,664 L1596.20,638 L1596.80,675 L1597.40,636 L1598.00,674 L1598.60,644 L1599.20,678 L1599.80,644 L1600.40,677 L1601.00,650 L1601.60,674 L1602.20,647 L1602.80,675 L1603.40,643 L1604.00,704 L1604.60,644 L1605.20,681 L1605.80,644 L1606.40,672 L1607.00,649 L1607.60,685 L1608.20,657 L1608.80,680 L1609.40,651 L1610.00,688 L1610.60,649 L1611.20,686 L1611.80,652 L1612.40,684 L1613.00,660 L1613.60,686 L1614.20,659 L1614.80,690 L1615.40,662 L1616.00,685 L1616.60,646 L1617.20,687 L1617.80,660 L1618.40,688 L1619.00,657 L1619.60,715 L1620.20,660 L1620.80,696 L1621.40,665 L1622.00,689 L1622.60,671 L1623.20,690 L1623.80,653 L1624.40,696 L1625.00,662 L1625.60,699 L1626.20,666 L1626.80,695 L1627.40,672 L1628.00,705 L1628.60,664 L1629.20,698 L1629.80,666 L1630.40,702 L1631.00,673 L1631.60,698 L1632.20,667 L1632.80,706 L1633.40,664 L1634.00,699 L1634.60,676 L1635.20,700 L1635.80,677 L1636.40,709 L1637.00,675 L1637.60,709 L1638.20,669 L1638.80,674 L1639.40,620 L1640.00,661 L1640.60,623 L1641.20,656 L1641.80,625 L1642.40,667 L1643.00,618 L1643.60,650 L1644.20,598 L1644.80,604 L1645.40,559 L1646.00,585 L1646.60,551 L1647.20,589 L1647.80,554 L1648.40,589 L1649.00,558 L1649.60,586 L1650.20,545 L1650.80,583 L1651.40,554 L1652.00,580 L1652.60,547 L1653.20,584 L1653.80,559 L1654.40,592 L1655.00,565 L1655.60,591 L1656.20,563 L1656.80,601 L1657.40,575 L1658.00,610 L1658.60,570 L1659.20,609 L1659.80,588 L1660.40,619 L1661.00,578 L1661.60,613 L1662.20,588 L1662.80,620 L1663.40,589 L1664.00,612 L1664.60,589 L1665.20,625 L1665.80,587 L1666.40,618 L1667.00,586 L1667.60,628 L1668.20,602 L1668.80,631 L1669.40,609 L1670.00,636 L1670.60,611 L1671.20,640 L1671.80,605 L1672.40,647 L1673.00,615 L1673.60,650 L1674.20,613 L1674.80,652 L1675.40,613 L1676.00,649 L1676.60,616 L1677.20,652 L1677.80,617 L1678.40,655 L1679.00,616 L1679.60,651 L1680.20,627 L1680.80,661 L1681.40,623 L1682.00,658 L1682.60,631 L1683.20,656 L1683.80,628 L1684.40,667 L1685.00,631 L1685.60,670 L1686.20,639 L1686.80,673 L1687.40,637 L1688.00,677 L1688.60,647 L1689.20,676 L1689.80,643 L1690.40,678 L1691.00,646 L1691.60,681 L1692.20,638 L1692.80,676 L1693.40,640 L1694.00,675 L1694.60,651 L1695.20,697 L1695.80,646 L1696.40,687 L1697.00,655 L1697.60,687 L1698.20,653 L1698.80,689 L1699.40,657 L1700.00,688 L1700.60,646 L1701.20,685 L1701.80,657 L1702.40,683 L1703.00,647 L1703.60,687 L1704.20,656 L1704.80,689 L1705.40,657 L1706.00,696 L1706.60,654 L1707.20,696 L1707.80,670 L1708.40,699 L1709.00,668 L1709.60,696 L1710.20,671 L1710.80,696 L1711.40,669 L1712.00,694 L1712.60,660 L1713.20,699 L1713.80,675 L1714.40,696 L1715.00,663 L1715.60,700 L1716.20,676 L1716.80,702 L1717.40,670 L1718.00,699 L1718.60,675 L1719.20,701 L1719.80,676 L1720.40,710 L1721.00,665 L1721.60,704 L1722.20,682 L1722.80,709 L1723.40,683 L1724.00,708 L1724.60,676 L1725.20,712 L1725.80,678 L1726.40,717 L1727.00,682 L1727.60,708 L1728.20,683 L1728.80,709 L1729.40,688 L1730.00,719 L1730.60,680 L1731.20,710 L1731.80,681 L1732.40,734 L1733.00,689 L1733.60,722 L1734.20,683 L1734.80,727 L1735.40,687 L1736.00,719 L1736.60,688 L1737.20,737 L1737.80,697 L1738.40,718 L1739.00,692 L1739.60,723 L1740.20,688 L1740.80,717 L1741.40,688 L1742.00,727 L1742.60,689 L1743.20,718 L1743.80,699 L1744.40,676 L1745.00,589 L1745.60,618 L1746.20,589 L1746.80,613 L1747.40,587 L1748.00,611 L1748.60,584 L1749.20,612 L1749.80,578 L1750.40,605 L1751.00,578 L1751.60,608 L1752.20,579 L1752.80,611 L1753.40,584 L1754.00,636 L1754.60,580 L1755.20,639 L1755.80,581 L1756.40,616 L1757.00,583 L1757.60,615 L1758.20,583 L1758.80,614 L1759.40,586 L1760.00,645 L1760.60,595 L1761.20,628 L1761.80,592 L1762.40,624 L1763.00,598 L1763.60,624 L1764.20,600 L1764.80,642 L1765.40,601 L1766.00,628 L1766.60,606 L1767.20,660 L1767.80,610 L1768.40,642 L1769.00,600 L1769.60,637 L1770.20,607 L1770.80,641 L1771.40,614 L1772.00,650 L1772.60,612 L1773.20,672 L1773.80,625 L1774.40,653 L1775.00,626 L1775.60,653 L1776.20,627 L1776.80,677 L1777.40,635 L1778.00,663 L1778.60,621 L1779.20,662 L1779.80,635 L1780.40,666 L1781.00,635 L1781.60,666 L1782.20,634 L1782.80,668 L1783.40,635 L1784.00,671 L1784.60,636 L1785.20,674 L1785.80,638 L1786.40,669 L1787.00,644 L1787.60,671 L1788.20,643 L1788.80,702 L1789.40,644 L1790.00,674 L1790.60,653 L1791.20,681 L1791.80,649 L1792.40,676 L1793.00,657 L1793.60,681 L1794.20,655 L1794.80,679 L1795.40,658 L1796.00,682 L1796.60,661 L1797.20,679 L1797.80,661 L1798.40,684 L1799.00,654 L1799.60,690 L1800.20,659 L1800.80,691 L1801.40,665 L1802.00,687 L1802.60,667 L1803.20,698 L1803.80,660 L1804.40,709 L1805.00,661 L1805.60,694 L1806.20,657 L1806.80,688 L1807.40,659 L1808.00,695 L1808.60,668 L1809.20,695 L1809.80,672 L1810.40,711 L1811.00,665 L1811.60,706 L1812.20,669 L1812.80,700 L1813.40,677 L1814.00,701 L1814.60,677 L1815.20,715 L1815.80,676 L1816.40,706 L1817.00,676 L1817.60,716 L1818.20,673 L1818.80,701 L1819.40,670 L1820.00,704 L1820.60,679 L1821.20,704 L1821.80,679 L1822.40,707 L1823.00,671 L1823.60,707 L1824.20,677 L1824.80,708 L1825.40,685 L1826.00,711 L1826.60,688 L1827.20,709 L1827.80,676 L1828.40,713 L1829.00,683 L1829.60,722 L1830.20,684 L1830.80,718 L1831.40,677 L1832.00,714 L1832.60,688 L1833.20,716 L1833.80,684 L1834.40,711 L1835.00,687 L1835.60,741 L1836.20,676 L1836.80,721 L1837.40,692 L1838.00,722 L1838.60,686 L1839.20,727 L1839.80,699 L1840.40,720 L1841.00,699 L1841.60,722 L1842.20,682 L1842.80,743 L1843.40,698 L1844.00,720 L1844.60,692 L1845.20,744 L1845.80,700 L1846.40,725 L1847.00,698 L1847.60,722 L1848.20,685 L1848.80,672 L1849.40,619 L1850.00,642 L1850.60,608 L1851.20,626 L1851.80,591 L1852.40,634 L1853.00,586 L1853.60,615 L1854.20,590 L1854.80,614 L1855.40,589 L1856.00,618 L1856.60,590 L1857.20,619 L1857.80,594 L1858.40,625 L1859.00,600 L1859.60,625 L1860.20,600 L1860.80,656 L1861.40,602 L1862.00,634 L1862.60,597 L1863.20,640 L1863.80,608 L1864.40,640 L1865.00,615 L1865.60,645 L1866.20,624 L1866.80,647 L1867.40,618 L1868.00,657 L1868.60,627 L1869.20,663 L1869.80,632 L1870.40,658 L1871.00,631 L1871.60,654 L1872.20,628 L1872.80,655 L1873.40,622" fill="none" stroke="#000" stroke-width="1.9" stroke-linejoin="bevel"/><line x1="195.0" y1="788.5" x2="195.0" y2="806.5" stroke="#000" stroke-width="2.2"/><text x="195.0" y="842" font-size="33" fill="#000" text-anchor="middle" font-weight="normal" textLength="48" lengthAdjust="spacingAndGlyphs" >540</text><line x1="474.4" y1="788.5" x2="474.4" y2="806.5" stroke="#000" stroke-width="2.2"/><text x="474.4" y="842" font-size="33" fill="#000" text-anchor="middle" font-weight="normal" textLength="48" lengthAdjust="spacingAndGlyphs" >550</text><line x1="753.8" y1="788.5" x2="753.8" y2="806.5" stroke="#000" stroke-width="2.2"/><text x="753.8" y="842" font-size="33" fill="#000" text-anchor="middle" font-weight="normal" textLength="48" lengthAdjust="spacingAndGlyphs" >560</text><line x1="1033.2" y1="788.5" x2="1033.2" y2="806.5" stroke="#000" stroke-width="2.2"/><text x="1033.2" y="842" font-size="33" fill="#000" text-anchor="middle" font-weight="normal" textLength="48" lengthAdjust="spacingAndGlyphs" >570</text><line x1="1312.7" y1="788.5" x2="1312.7" y2="806.5" stroke="#000" stroke-width="2.2"/><text x="1312.7" y="842" font-size="33" fill="#000" text-anchor="middle" font-weight="normal" textLength="48" lengthAdjust="spacingAndGlyphs" >580</text><line x1="1592.1" y1="788.5" x2="1592.1" y2="806.5" stroke="#000" stroke-width="2.2"/><text x="1592.1" y="842" font-size="33" fill="#000" text-anchor="middle" font-weight="normal" textLength="48" lengthAdjust="spacingAndGlyphs" >590</text><line x1="1871.5" y1="788.5" x2="1871.5" y2="806.5" stroke="#000" stroke-width="2.2"/><text x="1871.5" y="842" font-size="33" fill="#000" text-anchor="middle" font-weight="normal" textLength="48" lengthAdjust="spacingAndGlyphs" >600</text><rect x="142" y="58" width="42" height="42" fill="#00aeef"/><text x="163" y="90" font-size="38" fill="#fff" text-anchor="middle" font-weight="bold" >a</text><text x="861.5" y="885" font-size="33" fill="#000" text-anchor="start" font-weight="normal" textLength="342" lengthAdjust="spacingAndGlyphs" >WAVELENGTH <tspan font-style="italic">λ</tspan> (nm)</text><g transform="translate(165.6,414) rotate(-90)"><text x="0" y="0" font-size="34" fill="#000" text-anchor="middle" font-weight="normal" textLength="227" lengthAdjust="spacingAndGlyphs" >ABSORBANCE</text></g><circle cx="249.6" cy="733" r="36.7" fill="#2a7ab8"/><text x="251.3" y="746" font-size="38" fill="#fff" text-anchor="middle" font-weight="normal" textLength="45" lengthAdjust="spacingAndGlyphs" >1D</text><line x1="472.5" y1="771" x2="902" y2="771" stroke="#fbb819" stroke-width="6"/><line x1="474.5" y1="758" x2="474.5" y2="786" stroke="#fbb819" stroke-width="4"/><line x1="900" y1="758" x2="900" y2="786" stroke="#fbb819" stroke-width="4"/><line x1="1031.8" y1="771" x2="1220" y2="771" stroke="#1b75bb" stroke-width="6"/><line x1="1033.8" y1="758" x2="1033.8" y2="786" stroke="#1b75bb" stroke-width="4"/><line x1="1218" y1="758" x2="1218" y2="786" stroke="#1b75bb" stroke-width="4"/><line x1="1771" y1="771" x2="1798" y2="771" stroke="#8dc63f" stroke-width="6"/><line x1="1773" y1="758" x2="1773" y2="786" stroke="#8dc63f" stroke-width="4"/><line x1="1796" y1="758" x2="1796" y2="786" stroke="#8dc63f" stroke-width="4"/><text x="738.6" y="290.4" font-size="37" fill="#000" text-anchor="start" font-weight="normal" textLength="165.4" lengthAdjust="spacingAndGlyphs" >561.90 nm</text><line x1="821.3" y1="299" x2="821.3" y2="369" stroke="#fbb819" stroke-width="4"/><polygon points="811.3,368 831.3,368 821.3,386" fill="#fbb819"/><circle cx="821.3" cy="447" r="41.6" fill="none" stroke="#fbb819" stroke-width="7.7"/><text x="1035.7" y="369" font-size="37" fill="#000" text-anchor="start" font-weight="normal" textLength="165.9" lengthAdjust="spacingAndGlyphs" >573.43 nm</text><line x1="1119.2" y1="387.5" x2="1119.2" y2="491.7" stroke="#3f62ad" stroke-width="4"/><polygon points="1109.2,490.7 1129.2,490.7 1119.2,508.7" fill="#3f62ad"/><circle cx="1115.6" cy="567.5" r="41.3" fill="none" stroke="#1b75bb" stroke-width="7.7"/><text x="1694.7" y="475.8" font-size="37" fill="#000" text-anchor="start" font-weight="normal" textLength="164.5" lengthAdjust="spacingAndGlyphs" >597.11 nm</text><line x1="1798.6" y1="488" x2="1798.6" y2="591.6" stroke="#8dc63f" stroke-width="4"/><polygon points="1788.6,590.6 1808.6,590.6 1798.6,608.6" fill="#8dc63f"/><circle cx="1798" cy="664" r="41.3" fill="none" stroke="#8dc63f" stroke-width="7.7"/><clipPath id="cb"><rect x="228" y="963" width="550" height="386"/></clipPath><g clip-path="url(#cb)"><polygon points="133.0,862.0 136.2,854.5 147.7,835.7 191.9,769.1 242.2,694.4 284.4,632.4 286.7,633.9 245.7,696.8 196.1,771.9 151.6,838.4 138.7,856.2 133.0,862.0" fill="#000"/><line x1="182.9" y1="787.1" x2="288.3" y2="629.0" stroke="#fff" stroke-width="1.3" stroke-linecap="round"/><line x1="279.0" y1="640.8" x2="303.9" y2="603.4" stroke="#000" stroke-width="2.2" stroke-linecap="round"/><line x1="283.1" y1="643.6" x2="308.1" y2="606.1" stroke="#000" stroke-width="2.2" stroke-linecap="round"/><line x1="147.6" y1="853.7" x2="311.2" y2="608.2" stroke="#000" stroke-width="2.6" stroke-linecap="round"/><line x1="139.4" y1="884.3" x2="325.1" y2="617.5" stroke="#000" stroke-width="3.2" stroke-dasharray="0.01 6.5" stroke-linecap="round"/><line x1="163.0" y1="870.0" x2="327.6" y2="643.2" stroke="#000" stroke-width="3.0" stroke-dasharray="0.01 7.5" stroke-linecap="round"/><line x1="191.7" y1="756.9" x2="297.1" y2="598.8" stroke="#000" stroke-width="2.6" stroke-dasharray="0.01 7" stroke-linecap="round"/><polygon points="241.0,862.0 243.9,854.3 255.3,835.5 299.5,768.8 349.8,694.2 392.2,632.3 394.9,634.1 354.1,697.0 304.5,772.1 260.0,838.6 246.9,856.3 241.0,862.0" fill="#000"/><line x1="290.9" y1="787.1" x2="396.3" y2="629.0" stroke="#fff" stroke-width="1.3" stroke-linecap="round"/><line x1="386.7" y1="640.7" x2="411.7" y2="603.2" stroke="#000" stroke-width="2.2" stroke-linecap="round"/><line x1="391.2" y1="643.7" x2="416.2" y2="606.2" stroke="#000" stroke-width="2.2" stroke-linecap="round"/><line x1="256.0" y1="854.0" x2="419.6" y2="608.5" stroke="#000" stroke-width="2.6" stroke-linecap="round"/><line x1="247.8" y1="884.6" x2="433.5" y2="617.8" stroke="#000" stroke-width="3.2" stroke-dasharray="0.01 6.5" stroke-linecap="round"/><line x1="271.4" y1="870.3" x2="436.1" y2="643.5" stroke="#000" stroke-width="3.0" stroke-dasharray="0.01 7.5" stroke-linecap="round"/><line x1="299.2" y1="756.6" x2="404.6" y2="598.5" stroke="#000" stroke-width="2.6" stroke-dasharray="0.01 7" stroke-linecap="round"/><polygon points="347.0,862.0 349.4,854.0 360.5,834.9 404.7,768.3 455.1,693.7 497.7,632.0 501.4,634.4 460.8,697.5 411.3,772.7 366.8,839.1 353.4,856.7 347.0,862.0" fill="#000"/><line x1="396.9" y1="787.1" x2="502.3" y2="629.0" stroke="#fff" stroke-width="1.3" stroke-linecap="round"/><line x1="492.3" y1="640.4" x2="517.3" y2="602.9" stroke="#000" stroke-width="2.2" stroke-linecap="round"/><line x1="497.5" y1="643.8" x2="522.5" y2="606.4" stroke="#000" stroke-width="2.2" stroke-linecap="round"/><line x1="362.8" y1="854.5" x2="526.4" y2="609.0" stroke="#000" stroke-width="2.6" stroke-linecap="round"/><line x1="375.2" y1="848.4" x2="535.7" y2="615.2" stroke="#000" stroke-width="2.6" stroke-linecap="round"/><line x1="360.1" y1="888.7" x2="545.8" y2="621.9" stroke="#000" stroke-width="3.2" stroke-dasharray="0.01 6.5" stroke-linecap="round"/><line x1="383.7" y1="874.4" x2="548.3" y2="647.6" stroke="#000" stroke-width="3.0" stroke-dasharray="0.01 7.5" stroke-linecap="round"/><line x1="404.4" y1="756.0" x2="509.8" y2="597.9" stroke="#000" stroke-width="2.6" stroke-dasharray="0.01 7" stroke-linecap="round"/><polygon points="458.0,862.0 459.9,853.7 470.7,834.4 514.9,767.7 565.4,693.2 608.3,631.6 612.8,634.7 572.5,697.9 523.2,773.2 478.6,839.7 464.9,857.0 458.0,862.0" fill="#000"/><line x1="507.9" y1="787.1" x2="613.3" y2="629.0" stroke="#fff" stroke-width="1.3" stroke-linecap="round"/><line x1="602.9" y1="640.1" x2="627.9" y2="602.7" stroke="#000" stroke-width="2.2" stroke-linecap="round"/><line x1="608.7" y1="644.0" x2="633.7" y2="606.5" stroke="#000" stroke-width="2.2" stroke-linecap="round"/><line x1="474.6" y1="855.1" x2="638.3" y2="609.6" stroke="#000" stroke-width="2.6" stroke-linecap="round"/><line x1="487.0" y1="848.9" x2="647.6" y2="615.8" stroke="#000" stroke-width="2.6" stroke-linecap="round"/><line x1="471.9" y1="889.3" x2="657.6" y2="622.5" stroke="#000" stroke-width="3.2" stroke-dasharray="0.01 6.5" stroke-linecap="round"/><line x1="495.5" y1="875.0" x2="660.1" y2="648.2" stroke="#000" stroke-width="3.0" stroke-dasharray="0.01 7.5" stroke-linecap="round"/><line x1="514.6" y1="755.5" x2="620.0" y2="597.4" stroke="#000" stroke-width="2.6" stroke-dasharray="0.01 7" stroke-linecap="round"/><polygon points="571.0,862.0 571.4,852.7 581.3,832.8 625.4,766.0 676.3,691.8 719.9,630.7 727.2,635.6 687.6,699.4 638.7,774.9 594.0,841.3 579.4,858.0 571.0,862.0" fill="#000"/><line x1="620.9" y1="787.1" x2="726.3" y2="629.0" stroke="#fff" stroke-width="1.3" stroke-linecap="round"/><line x1="714.7" y1="639.3" x2="739.6" y2="601.8" stroke="#000" stroke-width="2.2" stroke-linecap="round"/><line x1="722.5" y1="644.5" x2="747.5" y2="607.0" stroke="#000" stroke-width="2.2" stroke-linecap="round"/><line x1="590.1" y1="856.7" x2="753.8" y2="611.3" stroke="#000" stroke-width="2.6" stroke-linecap="round"/><line x1="602.5" y1="850.6" x2="763.1" y2="617.4" stroke="#000" stroke-width="2.6" stroke-linecap="round"/><line x1="615.2" y1="844.6" x2="772.3" y2="623.6" stroke="#000" stroke-width="2.6" stroke-linecap="round"/><line x1="592.8" y1="894.6" x2="778.5" y2="627.7" stroke="#000" stroke-width="3.2" stroke-dasharray="0.01 6.5" stroke-linecap="round"/><line x1="616.4" y1="880.2" x2="781.0" y2="653.5" stroke="#000" stroke-width="3.0" stroke-dasharray="0.01 7.5" stroke-linecap="round"/><line x1="625.1" y1="753.8" x2="730.5" y2="595.7" stroke="#000" stroke-width="2.6" stroke-dasharray="0.01 7" stroke-linecap="round"/><polygon points="687.0,862.0 685.9,851.7 694.9,831.2 738.9,764.4 790.2,690.4 834.5,629.8 844.6,636.5 805.7,700.8 757.2,776.6 712.3,842.8 696.9,859.0 687.0,862.0" fill="#000"/><line x1="733.9" y1="785.1" x2="839.3" y2="627.0" stroke="#fff" stroke-width="1.3" stroke-linecap="round"/><line x1="751.1" y1="772.5" x2="845.4" y2="631.0" stroke="#fff" stroke-width="1.3" stroke-linecap="round"/><line x1="829.4" y1="638.4" x2="854.4" y2="601.0" stroke="#000" stroke-width="2.2" stroke-linecap="round"/><line x1="839.2" y1="645.0" x2="864.2" y2="607.5" stroke="#000" stroke-width="2.2" stroke-linecap="round"/><line x1="708.6" y1="858.4" x2="872.3" y2="612.9" stroke="#000" stroke-width="2.6" stroke-linecap="round"/><line x1="721.0" y1="852.2" x2="881.5" y2="619.1" stroke="#000" stroke-width="2.6" stroke-linecap="round"/><line x1="733.7" y1="846.3" x2="890.8" y2="625.3" stroke="#000" stroke-width="2.6" stroke-linecap="round"/><line x1="711.3" y1="896.2" x2="897.0" y2="629.4" stroke="#000" stroke-width="3.2" stroke-dasharray="0.01 6.5" stroke-linecap="round"/><line x1="734.9" y1="881.9" x2="899.5" y2="655.1" stroke="#000" stroke-width="3.0" stroke-dasharray="0.01 7.5" stroke-linecap="round"/><line x1="738.6" y1="752.2" x2="844.0" y2="594.1" stroke="#000" stroke-width="2.6" stroke-dasharray="0.01 7" stroke-linecap="round"/><polygon points="133.0,1081.0 136.2,1073.5 147.7,1054.7 191.9,988.1 242.2,913.4 284.4,851.4 286.7,852.9 245.7,915.8 196.1,990.9 151.6,1057.4 138.7,1075.2 133.0,1081.0" fill="#000"/><line x1="182.9" y1="1006.1" x2="288.3" y2="848.0" stroke="#fff" stroke-width="1.3" stroke-linecap="round"/><line x1="279.0" y1="859.8" x2="303.9" y2="822.4" stroke="#000" stroke-width="2.2" stroke-linecap="round"/><line x1="283.1" y1="862.6" x2="308.1" y2="825.1" stroke="#000" stroke-width="2.2" stroke-linecap="round"/><line x1="147.6" y1="1072.7" x2="311.2" y2="827.2" stroke="#000" stroke-width="2.6" stroke-linecap="round"/><line x1="139.4" y1="1103.3" x2="325.1" y2="836.5" stroke="#000" stroke-width="3.2" stroke-dasharray="0.01 6.5" stroke-linecap="round"/><line x1="163.0" y1="1089.0" x2="327.6" y2="862.2" stroke="#000" stroke-width="3.0" stroke-dasharray="0.01 7.5" stroke-linecap="round"/><line x1="191.7" y1="975.9" x2="297.1" y2="817.8" stroke="#000" stroke-width="2.6" stroke-dasharray="0.01 7" stroke-linecap="round"/><polygon points="241.0,1081.0 243.9,1073.3 255.3,1054.5 299.5,987.8 349.8,913.2 392.2,851.3 394.9,853.1 354.1,916.0 304.5,991.1 260.0,1057.6 246.9,1075.3 241.0,1081.0" fill="#000"/><line x1="290.9" y1="1006.1" x2="396.3" y2="848.0" stroke="#fff" stroke-width="1.3" stroke-linecap="round"/><line x1="386.7" y1="859.7" x2="411.7" y2="822.2" stroke="#000" stroke-width="2.2" stroke-linecap="round"/><line x1="391.2" y1="862.7" x2="416.2" y2="825.2" stroke="#000" stroke-width="2.2" stroke-linecap="round"/><line x1="256.0" y1="1073.0" x2="419.6" y2="827.5" stroke="#000" stroke-width="2.6" stroke-linecap="round"/><line x1="247.8" y1="1103.6" x2="433.5" y2="836.8" stroke="#000" stroke-width="3.2" stroke-dasharray="0.01 6.5" stroke-linecap="round"/><line x1="271.4" y1="1089.3" x2="436.1" y2="862.5" stroke="#000" stroke-width="3.0" stroke-dasharray="0.01 7.5" stroke-linecap="round"/><line x1="299.2" y1="975.6" x2="404.6" y2="817.5" stroke="#000" stroke-width="2.6" stroke-dasharray="0.01 7" stroke-linecap="round"/><polygon points="347.0,1081.0 349.4,1073.0 360.5,1053.9 404.7,987.3 455.1,912.7 497.7,851.0 501.4,853.4 460.8,916.5 411.3,991.7 366.8,1058.1 353.4,1075.7 347.0,1081.0" fill="#000"/><line x1="396.9" y1="1006.1" x2="502.3" y2="848.0" stroke="#fff" stroke-width="1.3" stroke-linecap="round"/><line x1="492.3" y1="859.4" x2="517.3" y2="821.9" stroke="#000" stroke-width="2.2" stroke-linecap="round"/><line x1="497.5" y1="862.8" x2="522.5" y2="825.4" stroke="#000" stroke-width="2.2" stroke-linecap="round"/><line x1="362.8" y1="1073.5" x2="526.4" y2="828.0" stroke="#000" stroke-width="2.6" stroke-linecap="round"/><line x1="375.2" y1="1067.4" x2="535.7" y2="834.2" stroke="#000" stroke-width="2.6" stroke-linecap="round"/><line x1="360.1" y1="1107.7" x2="545.8" y2="840.9" stroke="#000" stroke-width="3.2" stroke-dasharray="0.01 6.5" stroke-linecap="round"/><line x1="383.7" y1="1093.4" x2="548.3" y2="866.6" stroke="#000" stroke-width="3.0" stroke-dasharray="0.01 7.5" stroke-linecap="round"/><line x1="404.4" y1="975.0" x2="509.8" y2="816.9" stroke="#000" stroke-width="2.6" stroke-dasharray="0.01 7" stroke-linecap="round"/><polygon points="458.0,1081.0 459.9,1072.7 470.7,1053.4 514.9,986.7 565.4,912.2 608.3,850.6 612.8,853.7 572.5,916.9 523.2,992.2 478.6,1058.7 464.9,1076.0 458.0,1081.0" fill="#000"/><line x1="507.9" y1="1006.1" x2="613.3" y2="848.0" stroke="#fff" stroke-width="1.3" stroke-linecap="round"/><line x1="602.9" y1="859.1" x2="627.9" y2="821.7" stroke="#000" stroke-width="2.2" stroke-linecap="round"/><line x1="608.7" y1="863.0" x2="633.7" y2="825.5" stroke="#000" stroke-width="2.2" stroke-linecap="round"/><line x1="474.6" y1="1074.1" x2="638.3" y2="828.6" stroke="#000" stroke-width="2.6" stroke-linecap="round"/><line x1="487.0" y1="1067.9" x2="647.6" y2="834.8" stroke="#000" stroke-width="2.6" stroke-linecap="round"/><line x1="471.9" y1="1108.3" x2="657.6" y2="841.5" stroke="#000" stroke-width="3.2" stroke-dasharray="0.01 6.5" stroke-linecap="round"/><line x1="495.5" y1="1094.0" x2="660.1" y2="867.2" stroke="#000" stroke-width="3.0" stroke-dasharray="0.01 7.5" stroke-linecap="round"/><line x1="514.6" y1="974.5" x2="620.0" y2="816.4" stroke="#000" stroke-width="2.6" stroke-dasharray="0.01 7" stroke-linecap="round"/><polygon points="571.0,1081.0 571.4,1071.7 581.3,1051.8 625.4,985.0 676.3,910.8 719.9,849.7 727.2,854.6 687.6,918.4 638.7,993.9 594.0,1060.3 579.4,1077.0 571.0,1081.0" fill="#000"/><line x1="620.9" y1="1006.1" x2="726.3" y2="848.0" stroke="#fff" stroke-width="1.3" stroke-linecap="round"/><line x1="714.7" y1="858.3" x2="739.6" y2="820.8" stroke="#000" stroke-width="2.2" stroke-linecap="round"/><line x1="722.5" y1="863.5" x2="747.5" y2="826.0" stroke="#000" stroke-width="2.2" stroke-linecap="round"/><line x1="590.1" y1="1075.7" x2="753.8" y2="830.3" stroke="#000" stroke-width="2.6" stroke-linecap="round"/><line x1="602.5" y1="1069.6" x2="763.1" y2="836.4" stroke="#000" stroke-width="2.6" stroke-linecap="round"/><line x1="615.2" y1="1063.6" x2="772.3" y2="842.6" stroke="#000" stroke-width="2.6" stroke-linecap="round"/><line x1="592.8" y1="1113.6" x2="778.5" y2="846.7" stroke="#000" stroke-width="3.2" stroke-dasharray="0.01 6.5" stroke-linecap="round"/><line x1="616.4" y1="1099.2" x2="781.0" y2="872.5" stroke="#000" stroke-width="3.0" stroke-dasharray="0.01 7.5" stroke-linecap="round"/><line x1="625.1" y1="972.8" x2="730.5" y2="814.7" stroke="#000" stroke-width="2.6" stroke-dasharray="0.01 7" stroke-linecap="round"/><polygon points="687.0,1081.0 685.9,1070.7 694.9,1050.2 738.9,983.4 790.2,909.4 834.5,848.8 844.6,855.5 805.7,919.8 757.2,995.6 712.3,1061.8 696.9,1078.0 687.0,1081.0" fill="#000"/><line x1="733.9" y1="1004.1" x2="839.3" y2="846.0" stroke="#fff" stroke-width="1.3" stroke-linecap="round"/><line x1="751.1" y1="991.5" x2="845.4" y2="850.0" stroke="#fff" stroke-width="1.3" stroke-linecap="round"/><line x1="829.4" y1="857.4" x2="854.4" y2="820.0" stroke="#000" stroke-width="2.2" stroke-linecap="round"/><line x1="839.2" y1="864.0" x2="864.2" y2="826.5" stroke="#000" stroke-width="2.2" stroke-linecap="round"/><line x1="708.6" y1="1077.4" x2="872.3" y2="831.9" stroke="#000" stroke-width="2.6" stroke-linecap="round"/><line x1="721.0" y1="1071.2" x2="881.5" y2="838.1" stroke="#000" stroke-width="2.6" stroke-linecap="round"/><line x1="733.7" y1="1065.3" x2="890.8" y2="844.3" stroke="#000" stroke-width="2.6" stroke-linecap="round"/><line x1="711.3" y1="1115.2" x2="897.0" y2="848.4" stroke="#000" stroke-width="3.2" stroke-dasharray="0.01 6.5" stroke-linecap="round"/><line x1="734.9" y1="1100.9" x2="899.5" y2="874.1" stroke="#000" stroke-width="3.0" stroke-dasharray="0.01 7.5" stroke-linecap="round"/><line x1="738.6" y1="971.2" x2="844.0" y2="813.1" stroke="#000" stroke-width="2.6" stroke-dasharray="0.01 7" stroke-linecap="round"/><polygon points="133.0,1300.0 134.9,1291.7 145.7,1272.4 189.9,1205.7 240.4,1131.2 283.3,1069.6 287.8,1072.7 247.5,1135.9 198.2,1211.2 153.6,1277.7 139.9,1295.0 133.0,1300.0" fill="#000"/><line x1="182.9" y1="1225.1" x2="288.3" y2="1067.0" stroke="#fff" stroke-width="1.3" stroke-linecap="round"/><line x1="277.9" y1="1078.1" x2="302.9" y2="1040.7" stroke="#000" stroke-width="2.2" stroke-linecap="round"/><line x1="283.7" y1="1082.0" x2="308.7" y2="1044.5" stroke="#000" stroke-width="2.2" stroke-linecap="round"/><line x1="149.6" y1="1293.1" x2="313.3" y2="1047.6" stroke="#000" stroke-width="2.6" stroke-linecap="round"/><line x1="141.5" y1="1323.7" x2="327.2" y2="1056.9" stroke="#000" stroke-width="3.2" stroke-dasharray="0.01 6.5" stroke-linecap="round"/><line x1="165.1" y1="1309.4" x2="329.7" y2="1082.6" stroke="#000" stroke-width="3.0" stroke-dasharray="0.01 7.5" stroke-linecap="round"/><line x1="189.6" y1="1193.5" x2="295.0" y2="1035.4" stroke="#000" stroke-width="2.6" stroke-dasharray="0.01 7" stroke-linecap="round"/><polygon points="241.0,1300.0 241.2,1290.5 250.9,1270.6 294.9,1203.8 345.9,1129.6 389.7,1068.6 397.4,1073.8 358.0,1137.6 309.1,1213.2 264.4,1279.5 249.7,1296.2 241.0,1300.0" fill="#000"/><line x1="290.9" y1="1225.1" x2="396.3" y2="1067.0" stroke="#fff" stroke-width="1.3" stroke-linecap="round"/><line x1="384.5" y1="1077.1" x2="409.4" y2="1039.7" stroke="#000" stroke-width="2.2" stroke-linecap="round"/><line x1="392.6" y1="1082.6" x2="417.6" y2="1045.1" stroke="#000" stroke-width="2.2" stroke-linecap="round"/><line x1="260.6" y1="1295.0" x2="424.2" y2="1049.5" stroke="#000" stroke-width="2.6" stroke-linecap="round"/><line x1="273.0" y1="1288.9" x2="433.5" y2="1055.7" stroke="#000" stroke-width="2.6" stroke-linecap="round"/><line x1="257.8" y1="1329.2" x2="443.5" y2="1062.4" stroke="#000" stroke-width="3.2" stroke-dasharray="0.01 6.5" stroke-linecap="round"/><line x1="281.4" y1="1314.9" x2="446.0" y2="1088.1" stroke="#000" stroke-width="3.0" stroke-dasharray="0.01 7.5" stroke-linecap="round"/><line x1="294.7" y1="1191.6" x2="400.1" y2="1033.5" stroke="#000" stroke-width="2.6" stroke-dasharray="0.01 7" stroke-linecap="round"/><polygon points="347.0,1300.0 346.9,1290.3 356.5,1270.3 400.5,1203.5 451.6,1129.3 495.4,1068.4 503.7,1073.9 464.3,1137.8 415.5,1213.5 370.8,1279.8 355.9,1296.3 347.0,1300.0" fill="#000"/><line x1="394.4" y1="1223.4" x2="499.8" y2="1065.3" stroke="#fff" stroke-width="1.3" stroke-linecap="round"/><line x1="410.5" y1="1210.1" x2="504.8" y2="1068.7" stroke="#fff" stroke-width="1.3" stroke-linecap="round"/><line x1="490.3" y1="1077.0" x2="515.2" y2="1039.6" stroke="#000" stroke-width="2.2" stroke-linecap="round"/><line x1="498.7" y1="1082.7" x2="523.7" y2="1045.2" stroke="#000" stroke-width="2.2" stroke-linecap="round"/><line x1="367.0" y1="1295.3" x2="530.6" y2="1049.8" stroke="#000" stroke-width="2.6" stroke-linecap="round"/><line x1="379.4" y1="1289.1" x2="539.9" y2="1056.0" stroke="#000" stroke-width="2.6" stroke-linecap="round"/><line x1="364.2" y1="1329.5" x2="549.9" y2="1062.7" stroke="#000" stroke-width="3.2" stroke-dasharray="0.01 6.5" stroke-linecap="round"/><line x1="387.8" y1="1315.2" x2="552.5" y2="1088.4" stroke="#000" stroke-width="3.0" stroke-dasharray="0.01 7.5" stroke-linecap="round"/><line x1="400.3" y1="1191.3" x2="505.6" y2="1033.2" stroke="#000" stroke-width="2.6" stroke-dasharray="0.01 7" stroke-linecap="round"/><polygon points="458.0,1300.0 457.4,1290.0 466.7,1269.8 510.7,1202.9 561.9,1128.9 606.0,1068.1 615.1,1074.2 576.0,1138.3 527.3,1214.0 482.5,1280.3 467.4,1296.7 458.0,1300.0" fill="#000"/><line x1="505.1" y1="1223.3" x2="610.5" y2="1065.2" stroke="#fff" stroke-width="1.3" stroke-linecap="round"/><line x1="521.8" y1="1210.3" x2="616.1" y2="1068.9" stroke="#fff" stroke-width="1.3" stroke-linecap="round"/><line x1="600.8" y1="1076.7" x2="625.8" y2="1039.3" stroke="#000" stroke-width="2.2" stroke-linecap="round"/><line x1="610.0" y1="1082.8" x2="634.9" y2="1045.4" stroke="#000" stroke-width="2.2" stroke-linecap="round"/><line x1="478.8" y1="1295.8" x2="642.4" y2="1050.4" stroke="#000" stroke-width="2.6" stroke-linecap="round"/><line x1="491.2" y1="1289.7" x2="651.7" y2="1056.6" stroke="#000" stroke-width="2.6" stroke-linecap="round"/><line x1="503.9" y1="1283.7" x2="661.0" y2="1062.7" stroke="#000" stroke-width="2.6" stroke-linecap="round"/><line x1="481.5" y1="1333.7" x2="667.2" y2="1066.8" stroke="#000" stroke-width="3.2" stroke-dasharray="0.01 6.5" stroke-linecap="round"/><line x1="505.1" y1="1319.4" x2="669.7" y2="1092.6" stroke="#000" stroke-width="3.0" stroke-dasharray="0.01 7.5" stroke-linecap="round"/><line x1="510.4" y1="1190.7" x2="615.8" y2="1032.6" stroke="#000" stroke-width="2.6" stroke-dasharray="0.01 7" stroke-linecap="round"/><polygon points="571.0,1300.0 568.9,1289.0 577.4,1268.2 621.2,1201.3 672.7,1127.5 717.6,1067.2 729.5,1075.1 691.1,1139.7 642.8,1215.7 597.9,1281.9 581.9,1297.7 571.0,1300.0" fill="#000"/><line x1="617.3" y1="1222.7" x2="722.7" y2="1064.6" stroke="#fff" stroke-width="1.3" stroke-linecap="round"/><line x1="635.6" y1="1210.9" x2="729.9" y2="1069.4" stroke="#fff" stroke-width="1.3" stroke-linecap="round"/><line x1="712.6" y1="1075.9" x2="737.5" y2="1038.4" stroke="#000" stroke-width="2.2" stroke-linecap="round"/><line x1="723.7" y1="1083.3" x2="748.7" y2="1045.9" stroke="#000" stroke-width="2.2" stroke-linecap="round"/><line x1="594.3" y1="1297.5" x2="757.9" y2="1052.0" stroke="#000" stroke-width="2.6" stroke-linecap="round"/><line x1="606.7" y1="1291.3" x2="767.2" y2="1058.2" stroke="#000" stroke-width="2.6" stroke-linecap="round"/><line x1="619.4" y1="1285.4" x2="776.5" y2="1064.4" stroke="#000" stroke-width="2.6" stroke-linecap="round"/><line x1="632.4" y1="1279.6" x2="785.8" y2="1070.6" stroke="#000" stroke-width="2.6" stroke-linecap="round"/><line x1="602.4" y1="1338.9" x2="788.1" y2="1072.1" stroke="#000" stroke-width="3.2" stroke-dasharray="0.01 6.5" stroke-linecap="round"/><line x1="626.0" y1="1324.6" x2="790.6" y2="1097.9" stroke="#000" stroke-width="3.0" stroke-dasharray="0.01 7.5" stroke-linecap="round"/><line x1="620.9" y1="1189.1" x2="726.3" y2="1031.0" stroke="#000" stroke-width="2.6" stroke-dasharray="0.01 7" stroke-linecap="round"/><polygon points="687.0,1300.0 684.4,1288.7 692.6,1267.7 736.4,1200.7 788.0,1127.0 833.1,1066.9 845.9,1075.4 807.8,1140.2 759.7,1216.2 714.7,1282.4 698.4,1298.0 687.0,1300.0" fill="#000"/><line x1="731.1" y1="1221.2" x2="836.5" y2="1063.1" stroke="#fff" stroke-width="1.3" stroke-linecap="round"/><line x1="748.0" y1="1208.5" x2="842.3" y2="1067.0" stroke="#fff" stroke-width="1.3" stroke-linecap="round"/><line x1="764.9" y1="1195.7" x2="848.1" y2="1070.9" stroke="#fff" stroke-width="1.3" stroke-linecap="round"/><line x1="828.2" y1="1075.6" x2="853.1" y2="1038.2" stroke="#000" stroke-width="2.2" stroke-linecap="round"/><line x1="840.0" y1="1083.5" x2="864.9" y2="1046.0" stroke="#000" stroke-width="2.2" stroke-linecap="round"/><line x1="711.1" y1="1298.1" x2="874.8" y2="1052.6" stroke="#000" stroke-width="2.6" stroke-linecap="round"/><line x1="723.5" y1="1291.9" x2="884.0" y2="1058.8" stroke="#000" stroke-width="2.6" stroke-linecap="round"/><line x1="736.2" y1="1285.9" x2="893.3" y2="1065.0" stroke="#000" stroke-width="2.6" stroke-linecap="round"/><line x1="749.2" y1="1280.2" x2="902.6" y2="1071.1" stroke="#000" stroke-width="2.6" stroke-linecap="round"/><line x1="719.2" y1="1339.5" x2="904.9" y2="1072.7" stroke="#000" stroke-width="3.2" stroke-dasharray="0.01 6.5" stroke-linecap="round"/><line x1="742.8" y1="1325.2" x2="907.4" y2="1098.4" stroke="#000" stroke-width="3.0" stroke-dasharray="0.01 7.5" stroke-linecap="round"/><line x1="736.1" y1="1188.5" x2="841.5" y2="1030.4" stroke="#000" stroke-width="2.6" stroke-dasharray="0.01 7" stroke-linecap="round"/><polygon points="133.0,1519.0 134.9,1510.7 145.7,1491.4 189.9,1424.7 240.4,1350.2 283.3,1288.6 287.8,1291.7 247.5,1354.9 198.2,1430.2 153.6,1496.7 139.9,1514.0 133.0,1519.0" fill="#000"/><line x1="182.9" y1="1444.1" x2="288.3" y2="1286.0" stroke="#fff" stroke-width="1.3" stroke-linecap="round"/><line x1="277.9" y1="1297.1" x2="302.9" y2="1259.7" stroke="#000" stroke-width="2.2" stroke-linecap="round"/><line x1="283.7" y1="1301.0" x2="308.7" y2="1263.5" stroke="#000" stroke-width="2.2" stroke-linecap="round"/><line x1="149.6" y1="1512.1" x2="313.3" y2="1266.6" stroke="#000" stroke-width="2.6" stroke-linecap="round"/><line x1="141.5" y1="1542.7" x2="327.2" y2="1275.9" stroke="#000" stroke-width="3.2" stroke-dasharray="0.01 6.5" stroke-linecap="round"/><line x1="165.1" y1="1528.4" x2="329.7" y2="1301.6" stroke="#000" stroke-width="3.0" stroke-dasharray="0.01 7.5" stroke-linecap="round"/><line x1="189.6" y1="1412.5" x2="295.0" y2="1254.4" stroke="#000" stroke-width="2.6" stroke-dasharray="0.01 7" stroke-linecap="round"/><polygon points="241.0,1519.0 241.2,1509.5 250.9,1489.6 294.9,1422.8 345.9,1348.6 389.7,1287.6 397.4,1292.8 358.0,1356.6 309.1,1432.2 264.4,1498.5 249.7,1515.2 241.0,1519.0" fill="#000"/><line x1="290.9" y1="1444.1" x2="396.3" y2="1286.0" stroke="#fff" stroke-width="1.3" stroke-linecap="round"/><line x1="384.5" y1="1296.1" x2="409.4" y2="1258.7" stroke="#000" stroke-width="2.2" stroke-linecap="round"/><line x1="392.6" y1="1301.6" x2="417.6" y2="1264.1" stroke="#000" stroke-width="2.2" stroke-linecap="round"/><line x1="260.6" y1="1514.0" x2="424.2" y2="1268.5" stroke="#000" stroke-width="2.6" stroke-linecap="round"/><line x1="273.0" y1="1507.9" x2="433.5" y2="1274.7" stroke="#000" stroke-width="2.6" stroke-linecap="round"/><line x1="257.8" y1="1548.2" x2="443.5" y2="1281.4" stroke="#000" stroke-width="3.2" stroke-dasharray="0.01 6.5" stroke-linecap="round"/><line x1="281.4" y1="1533.9" x2="446.0" y2="1307.1" stroke="#000" stroke-width="3.0" stroke-dasharray="0.01 7.5" stroke-linecap="round"/><line x1="294.7" y1="1410.6" x2="400.1" y2="1252.5" stroke="#000" stroke-width="2.6" stroke-dasharray="0.01 7" stroke-linecap="round"/><polygon points="347.0,1519.0 346.9,1509.3 356.5,1489.3 400.5,1422.5 451.6,1348.3 495.4,1287.4 503.7,1292.9 464.3,1356.8 415.5,1432.5 370.8,1498.8 355.9,1515.3 347.0,1519.0" fill="#000"/><line x1="394.4" y1="1442.4" x2="499.8" y2="1284.3" stroke="#fff" stroke-width="1.3" stroke-linecap="round"/><line x1="410.5" y1="1429.1" x2="504.8" y2="1287.7" stroke="#fff" stroke-width="1.3" stroke-linecap="round"/><line x1="490.3" y1="1296.0" x2="515.2" y2="1258.6" stroke="#000" stroke-width="2.2" stroke-linecap="round"/><line x1="498.7" y1="1301.7" x2="523.7" y2="1264.2" stroke="#000" stroke-width="2.2" stroke-linecap="round"/><line x1="367.0" y1="1514.3" x2="530.6" y2="1268.8" stroke="#000" stroke-width="2.6" stroke-linecap="round"/><line x1="379.4" y1="1508.1" x2="539.9" y2="1275.0" stroke="#000" stroke-width="2.6" stroke-linecap="round"/><line x1="364.2" y1="1548.5" x2="549.9" y2="1281.7" stroke="#000" stroke-width="3.2" stroke-dasharray="0.01 6.5" stroke-linecap="round"/><line x1="387.8" y1="1534.2" x2="552.5" y2="1307.4" stroke="#000" stroke-width="3.0" stroke-dasharray="0.01 7.5" stroke-linecap="round"/><line x1="400.3" y1="1410.3" x2="505.6" y2="1252.2" stroke="#000" stroke-width="2.6" stroke-dasharray="0.01 7" stroke-linecap="round"/><polygon points="458.0,1519.0 457.4,1509.0 466.7,1488.8 510.7,1421.9 561.9,1347.9 606.0,1287.1 615.1,1293.2 576.0,1357.3 527.3,1433.0 482.5,1499.3 467.4,1515.7 458.0,1519.0" fill="#000"/><line x1="505.1" y1="1442.3" x2="610.5" y2="1284.2" stroke="#fff" stroke-width="1.3" stroke-linecap="round"/><line x1="521.8" y1="1429.3" x2="616.1" y2="1287.9" stroke="#fff" stroke-width="1.3" stroke-linecap="round"/><line x1="600.8" y1="1295.7" x2="625.8" y2="1258.3" stroke="#000" stroke-width="2.2" stroke-linecap="round"/><line x1="610.0" y1="1301.8" x2="634.9" y2="1264.4" stroke="#000" stroke-width="2.2" stroke-linecap="round"/><line x1="478.8" y1="1514.8" x2="642.4" y2="1269.4" stroke="#000" stroke-width="2.6" stroke-linecap="round"/><line x1="491.2" y1="1508.7" x2="651.7" y2="1275.6" stroke="#000" stroke-width="2.6" stroke-linecap="round"/><line x1="503.9" y1="1502.7" x2="661.0" y2="1281.7" stroke="#000" stroke-width="2.6" stroke-linecap="round"/><line x1="481.5" y1="1552.7" x2="667.2" y2="1285.8" stroke="#000" stroke-width="3.2" stroke-dasharray="0.01 6.5" stroke-linecap="round"/><line x1="505.1" y1="1538.4" x2="669.7" y2="1311.6" stroke="#000" stroke-width="3.0" stroke-dasharray="0.01 7.5" stroke-linecap="round"/><line x1="510.4" y1="1409.7" x2="615.8" y2="1251.6" stroke="#000" stroke-width="2.6" stroke-dasharray="0.01 7" stroke-linecap="round"/><polygon points="571.0,1519.0 568.9,1508.0 577.4,1487.2 621.2,1420.3 672.7,1346.5 717.6,1286.2 729.5,1294.1 691.1,1358.7 642.8,1434.7 597.9,1500.9 581.9,1516.7 571.0,1519.0" fill="#000"/><line x1="617.3" y1="1441.7" x2="722.7" y2="1283.6" stroke="#fff" stroke-width="1.3" stroke-linecap="round"/><line x1="635.6" y1="1429.9" x2="729.9" y2="1288.4" stroke="#fff" stroke-width="1.3" stroke-linecap="round"/><line x1="712.6" y1="1294.9" x2="737.5" y2="1257.4" stroke="#000" stroke-width="2.2" stroke-linecap="round"/><line x1="723.7" y1="1302.3" x2="748.7" y2="1264.9" stroke="#000" stroke-width="2.2" stroke-linecap="round"/><line x1="594.3" y1="1516.5" x2="757.9" y2="1271.0" stroke="#000" stroke-width="2.6" stroke-linecap="round"/><line x1="606.7" y1="1510.3" x2="767.2" y2="1277.2" stroke="#000" stroke-width="2.6" stroke-linecap="round"/><line x1="619.4" y1="1504.4" x2="776.5" y2="1283.4" stroke="#000" stroke-width="2.6" stroke-linecap="round"/><line x1="632.4" y1="1498.6" x2="785.8" y2="1289.6" stroke="#000" stroke-width="2.6" stroke-linecap="round"/><line x1="602.4" y1="1557.9" x2="788.1" y2="1291.1" stroke="#000" stroke-width="3.2" stroke-dasharray="0.01 6.5" stroke-linecap="round"/><line x1="626.0" y1="1543.6" x2="790.6" y2="1316.9" stroke="#000" stroke-width="3.0" stroke-dasharray="0.01 7.5" stroke-linecap="round"/><line x1="620.9" y1="1408.1" x2="726.3" y2="1250.0" stroke="#000" stroke-width="2.6" stroke-dasharray="0.01 7" stroke-linecap="round"/><polygon points="687.0,1519.0 684.4,1507.7 692.6,1486.7 736.4,1419.7 788.0,1346.0 833.1,1285.9 845.9,1294.4 807.8,1359.2 759.7,1435.2 714.7,1501.4 698.4,1517.0 687.0,1519.0" fill="#000"/><line x1="731.1" y1="1440.2" x2="836.5" y2="1282.1" stroke="#fff" stroke-width="1.3" stroke-linecap="round"/><line x1="748.0" y1="1427.5" x2="842.3" y2="1286.0" stroke="#fff" stroke-width="1.3" stroke-linecap="round"/><line x1="764.9" y1="1414.7" x2="848.1" y2="1289.9" stroke="#fff" stroke-width="1.3" stroke-linecap="round"/><line x1="828.2" y1="1294.6" x2="853.1" y2="1257.2" stroke="#000" stroke-width="2.2" stroke-linecap="round"/><line x1="840.0" y1="1302.5" x2="864.9" y2="1265.0" stroke="#000" stroke-width="2.2" stroke-linecap="round"/><line x1="711.1" y1="1517.1" x2="874.8" y2="1271.6" stroke="#000" stroke-width="2.6" stroke-linecap="round"/><line x1="723.5" y1="1510.9" x2="884.0" y2="1277.8" stroke="#000" stroke-width="2.6" stroke-linecap="round"/><line x1="736.2" y1="1504.9" x2="893.3" y2="1284.0" stroke="#000" stroke-width="2.6" stroke-linecap="round"/><line x1="749.2" y1="1499.2" x2="902.6" y2="1290.1" stroke="#000" stroke-width="2.6" stroke-linecap="round"/><line x1="719.2" y1="1558.5" x2="904.9" y2="1291.7" stroke="#000" stroke-width="3.2" stroke-dasharray="0.01 6.5" stroke-linecap="round"/><line x1="742.8" y1="1544.2" x2="907.4" y2="1317.4" stroke="#000" stroke-width="3.0" stroke-dasharray="0.01 7.5" stroke-linecap="round"/><line x1="736.1" y1="1407.5" x2="841.5" y2="1249.4" stroke="#000" stroke-width="2.6" stroke-dasharray="0.01 7" stroke-linecap="round"/></g><line x1="207" y1="955" x2="787" y2="955" stroke="#000" stroke-width="2"/><line x1="207" y1="1356" x2="787" y2="1356" stroke="#000" stroke-width="2"/><line x1="221.3" y1="1356" x2="221.3" y2="1370.5" stroke="#000" stroke-width="2"/><line x1="786.5" y1="1356" x2="786.5" y2="1370.5" stroke="#000" stroke-width="2"/><rect x="227" y="956" width="558" height="7.5" fill="#fbb819"/><rect x="227" y="1348.8" width="558" height="7.8" fill="#fbb819"/><rect x="714.2" y="963" width="8" height="386" fill="#fbb819"/><rect x="227" y="1108" width="551" height="7.5" fill="#1b75bb"/><rect x="220.3" y="956" width="7.5" height="400" fill="#1b75bb"/><rect x="778" y="956" width="8" height="400" fill="#1b75bb"/><circle cx="719" cy="1113" r="44.9" fill="none" stroke="#fbb819" stroke-width="8.2"/><circle cx="719" cy="1113" r="31.8" fill="none" stroke="#1b75bb" stroke-width="8.2"/><circle cx="258.2" cy="991.2" r="36.7" fill="#2a7ab8"/><text x="259.5" y="1004.5" font-size="38" fill="#fff" text-anchor="middle" font-weight="normal" textLength="46" lengthAdjust="spacingAndGlyphs" >2D</text><rect x="220" y="904" width="42" height="41.5" fill="#00aeef"/><text x="241" y="938" font-size="38" fill="#fff" text-anchor="middle" font-weight="bold" >b</text><text x="199.8" y="962.3" font-size="33" fill="#1b75bb" text-anchor="end" font-weight="normal" textLength="49.3" lengthAdjust="spacingAndGlyphs" >576</text><text x="199.8" y="1363.1" font-size="33" fill="#1b75bb" text-anchor="end" font-weight="normal" textLength="49.6" lengthAdjust="spacingAndGlyphs" >570</text><text x="223" y="1403.4" font-size="33" fill="#fbb819" text-anchor="middle" font-weight="normal" textLength="49" lengthAdjust="spacingAndGlyphs" >550</text><text x="789.7" y="1403.4" font-size="33" fill="#fbb819" text-anchor="middle" font-weight="normal" textLength="49.4" lengthAdjust="spacingAndGlyphs" >564</text><text x="448" y="1419.5" font-size="35" fill="#fbb819"><tspan font-style="italic">λ</tspan><tspan font-size="26" dy="4">out</tspan><tspan dy="-4"> (nm)</tspan></text><g transform="translate(168,1156) rotate(-90)"><text x="0" y="0" font-size="35" fill="#1b75bb" text-anchor="middle"><tspan font-style="italic">λ</tspan><tspan font-size="26" dy="4">3</tspan><tspan dy="-4"> (nm)</tspan></text></g><line x1="836" y1="955.2" x2="948" y2="955.2" stroke="#000" stroke-width="3.8"/><line x1="836" y1="1036" x2="948" y2="1036" stroke="#000" stroke-width="3.8"/><line x1="836" y1="1273.7" x2="948" y2="1273.7" stroke="#000" stroke-width="3.8"/><line x1="836" y1="1355.4" x2="948" y2="1355.4" stroke="#000" stroke-width="3.8"/><line x1="836" y1="1380.5" x2="948" y2="1380.5" stroke="#000" stroke-width="3.8"/><line x1="836" y1="1155.4" x2="948" y2="1155.4" stroke="#000" stroke-width="4" stroke-dasharray="4 13.5 9 13.5 9 13.5 9 13.5 9 13.5 9 13.5 9"/><line x1="850.5" y1="1355" x2="850.5" y2="1051" stroke="#1b75bb" stroke-width="3.8"/><polygon points="840.2,1052 860.8,1052 850.5,1034" fill="#1b75bb"/><line x1="879" y1="1036" x2="879" y2="1136.5" stroke="#000" stroke-width="3.8"/><polygon points="868.7,1135.5 889.3,1135.5 879,1153.5" fill="#000"/><line x1="904.2" y1="1155" x2="904.2" y2="974.5" stroke="#000" stroke-width="3.8"/><polygon points="893.9000000000001,975.5 914.5,975.5 904.2,957.5" fill="#000"/><line x1="930" y1="957" x2="930" y2="1340" stroke="#fbb819" stroke-width="2"/><line x1="936" y1="957" x2="936" y2="1340" stroke="#fbb819" stroke-width="2"/><polygon points="922.8,1337 943.5,1337 933.2,1355" fill="#fbb819"/><filter id="spk" x="0" y="0" width="100%" height="100%" color-interpolation-filters="sRGB"><feTurbulence type="fractalNoise" baseFrequency="0.12 0.4" numOctaves="2" seed="5" result="t1"/><feColorMatrix in="t1" type="matrix" values="1 0 0 0 0  1 0 0 0 0  1 0 0 0 0  0 0 0 0 1" result="n1"/><feTurbulence type="fractalNoise" baseFrequency="0.003 0.025" numOctaves="1" seed="11" result="t2"/><feColorMatrix in="t2" type="matrix" values="1 0 0 0 0  1 0 0 0 0  1 0 0 0 0  0 0 0 0 1" result="n2"/><feComposite in="n1" in2="n2" operator="arithmetic" k1="0" k2="1" k3="0.25" k4="-0.125" result="n"/><feColorMatrix in="n" type="matrix" values="0 0 0 0 0.35  0 0 0 0 0.38  0 0 0 0 0.45  11 0 0 0 -5.9"/><feGaussianBlur stdDeviation="0.45"/></filter><filter id="blr" x="-50%" y="-50%" width="200%" height="200%"><feGaussianBlur stdDeviation="3"/></filter><filter id="blr2" x="-50%" y="-50%" width="200%" height="200%"><feGaussianBlur stdDeviation="2.2"/></filter><clipPath id="cc"><rect x="1137.5" y="955.5" width="593.3" height="404.5"/></clipPath><rect x="1137.5" y="955.5" width="593.3" height="404.5" fill="#e0951e"/><rect x="1137.5" y="955.5" width="593.3" height="404.5" filter="url(#spk)"/><g clip-path="url(#cc)"><rect x="1395" y="915" width="12" height="150" fill="#f0b030" opacity="0.35" filter="url(#blr)"/><ellipse cx="1395" cy="978" rx="14" ry="14" fill="#f5b628" opacity="0.85" filter="url(#blr)"/><ellipse cx="1408" cy="992" rx="6" ry="28" fill="#4a2e10" opacity="0.85" filter="url(#blr2)"/><ellipse cx="1413" cy="993" rx="19" ry="5" fill="#4a2e10" opacity="0.7" filter="url(#blr2)"/><rect x="1177" y="1055" width="12" height="150" fill="#f0b030" opacity="0.35" filter="url(#blr)"/><ellipse cx="1177" cy="1118" rx="14" ry="14" fill="#f5b628" opacity="0.85" filter="url(#blr)"/><ellipse cx="1190" cy="1132" rx="6" ry="28" fill="#4a2e10" opacity="0.85" filter="url(#blr2)"/><ellipse cx="1195" cy="1133" rx="19" ry="5" fill="#4a2e10" opacity="0.7" filter="url(#blr2)"/><rect x="1393" y="1097" width="12" height="150" fill="#f0b030" opacity="0.35" filter="url(#blr)"/><ellipse cx="1393" cy="1160" rx="14" ry="14" fill="#f5b628" opacity="0.85" filter="url(#blr)"/><ellipse cx="1406" cy="1174" rx="6" ry="28" fill="#4a2e10" opacity="0.85" filter="url(#blr2)"/><ellipse cx="1411" cy="1175" rx="19" ry="5" fill="#4a2e10" opacity="0.7" filter="url(#blr2)"/><rect x="1488" y="1052" width="12" height="150" fill="#f0b030" opacity="0.35" filter="url(#blr)"/><ellipse cx="1488" cy="1115" rx="14" ry="14" fill="#f5b628" opacity="0.85" filter="url(#blr)"/><ellipse cx="1501" cy="1129" rx="6" ry="28" fill="#4a2e10" opacity="0.85" filter="url(#blr2)"/><ellipse cx="1506" cy="1130" rx="19" ry="5" fill="#4a2e10" opacity="0.7" filter="url(#blr2)"/><rect x="1686" y="1098" width="12" height="150" fill="#f0b030" opacity="0.35" filter="url(#blr)"/><ellipse cx="1686" cy="1161" rx="14" ry="14" fill="#f5b628" opacity="0.85" filter="url(#blr)"/><ellipse cx="1699" cy="1175" rx="6" ry="28" fill="#4a2e10" opacity="0.85" filter="url(#blr2)"/><ellipse cx="1704" cy="1176" rx="19" ry="5" fill="#4a2e10" opacity="0.7" filter="url(#blr2)"/><rect x="1489" y="1243" width="12" height="150" fill="#f0b030" opacity="0.35" filter="url(#blr)"/><ellipse cx="1489" cy="1306" rx="14" ry="14" fill="#f5b628" opacity="0.85" filter="url(#blr)"/><ellipse cx="1502" cy="1320" rx="6" ry="28" fill="#4a2e10" opacity="0.85" filter="url(#blr2)"/><ellipse cx="1507" cy="1321" rx="19" ry="5" fill="#4a2e10" opacity="0.7" filter="url(#blr2)"/></g><rect x="1137.5" y="955.5" width="593.3" height="404.5" fill="none" stroke="#000" stroke-width="2.5"/><line x1="1122" y1="955.8" x2="1137.5" y2="955.8" stroke="#000" stroke-width="2.5"/><line x1="1122" y1="1076.6" x2="1137.5" y2="1076.6" stroke="#000" stroke-width="2.5"/><line x1="1122" y1="1197.2" x2="1137.5" y2="1197.2" stroke="#000" stroke-width="2.5"/><line x1="1122" y1="1318.6" x2="1137.5" y2="1318.6" stroke="#000" stroke-width="2.5"/><line x1="1137.5" y1="1360" x2="1137.5" y2="1376" stroke="#000" stroke-width="2.5"/><line x1="1730.8" y1="1360" x2="1730.8" y2="1376" stroke="#000" stroke-width="2.5"/><text x="1117.8" y="964" font-size="33" fill="#13a04a" text-anchor="end" font-weight="normal" textLength="73.8" lengthAdjust="spacingAndGlyphs" >597.0</text><text x="1117.8" y="1086" font-size="33" fill="#13a04a" text-anchor="end" font-weight="normal" textLength="73.8" lengthAdjust="spacingAndGlyphs" >597.2</text><text x="1117.8" y="1207.5" font-size="33" fill="#13a04a" text-anchor="end" font-weight="normal" textLength="73.8" lengthAdjust="spacingAndGlyphs" >597.4</text><text x="1117.8" y="1328.5" font-size="33" fill="#13a04a" text-anchor="end" font-weight="normal" textLength="73.8" lengthAdjust="spacingAndGlyphs" >597.6</text><text x="1137.5" y="1412.7" font-size="33" fill="#92278f" text-anchor="middle" font-weight="normal" textLength="74" lengthAdjust="spacingAndGlyphs" >933.5</text><text x="1730.6" y="1412.7" font-size="33" fill="#92278f" text-anchor="middle" font-weight="normal" textLength="74" lengthAdjust="spacingAndGlyphs" >931.8</text><text x="1373" y="1419" font-size="35" fill="#92278f"><tspan font-style="italic">λ</tspan><tspan font-size="26" dy="4">out</tspan><tspan dy="-4"> (nm)</tspan></text><g transform="translate(1014,1156) rotate(-90)"><text x="0" y="0" font-size="35" fill="#13a04a" text-anchor="middle"><tspan font-style="italic">λ</tspan><tspan font-size="26" dy="4">2</tspan><tspan dy="-4"> (nm)</tspan></text></g><polyline points="1407.3,988.6 1693,1169.7 1404,1169.7 1404,988.6" fill="none" stroke="#8dc63f" stroke-width="4.6"/><polyline points="1181.7,1126.1 1500.4,1126.1 1500.4,1316.4 1181.7,1126.1" fill="none" stroke="#8dc63f" stroke-width="4.6"/><circle cx="1407.3" cy="988.6" r="45.5" fill="none" stroke="#92278f" stroke-width="4.6"/><circle cx="1407.3" cy="988.6" r="36.3" fill="none" stroke="#8dc63f" stroke-width="6"/><circle cx="1407.3" cy="988.6" r="28" fill="none" stroke="#fbb819" stroke-width="5.5"/><circle cx="1173.8" cy="992" r="36.8" fill="#2a7ab8"/><text x="1175" y="1005.5" font-size="38" fill="#fff" text-anchor="middle" font-weight="normal" textLength="46" lengthAdjust="spacingAndGlyphs" >3D</text><rect x="1136" y="906.6" width="41.3" height="41.6" fill="#00aeef"/><text x="1156.6" y="938" font-size="38" fill="#fff" text-anchor="middle" font-weight="bold" >c</text><line x1="1773" y1="953.7" x2="1902" y2="953.7" stroke="#000" stroke-width="3.8"/><line x1="1773" y1="1035.6" x2="1902" y2="1035.6" stroke="#000" stroke-width="3.8"/><line x1="1773" y1="1275" x2="1902" y2="1275" stroke="#000" stroke-width="3.8"/><line x1="1773" y1="1357.7" x2="1902" y2="1357.7" stroke="#000" stroke-width="3.8"/><line x1="1773" y1="1382" x2="1902" y2="1382" stroke="#000" stroke-width="3.8"/><line x1="1795" y1="1356" x2="1795" y2="973.6" stroke="#f7941d" stroke-width="3.8"/><polygon points="1784.7,974.6 1805.3,974.6 1795,956.6" fill="#f7941d"/><line x1="1813.8" y1="1356" x2="1813.8" y2="1055" stroke="#8dc63f" stroke-width="3.8" stroke-dasharray="8 10"/><polygon points="1803.7,1055 1823.8,1055 1813.8,1037.6" fill="#8dc63f"/><line x1="1843.3" y1="1037" x2="1843.3" y2="1256" stroke="#000" stroke-width="3.8" stroke-dasharray="6.5 12"/><polygon points="1833,1255.6 1854,1255.6 1843.3,1272.8" fill="#000"/><line x1="1873.4" y1="954" x2="1873.4" y2="1257" stroke="#92278f" stroke-width="2"/><line x1="1879.2" y1="954" x2="1879.2" y2="1257" stroke="#92278f" stroke-width="2"/><polygon points="1866,1255 1887,1255 1876.3,1272.8" fill="#92278f"/>
</svg></body></html>
